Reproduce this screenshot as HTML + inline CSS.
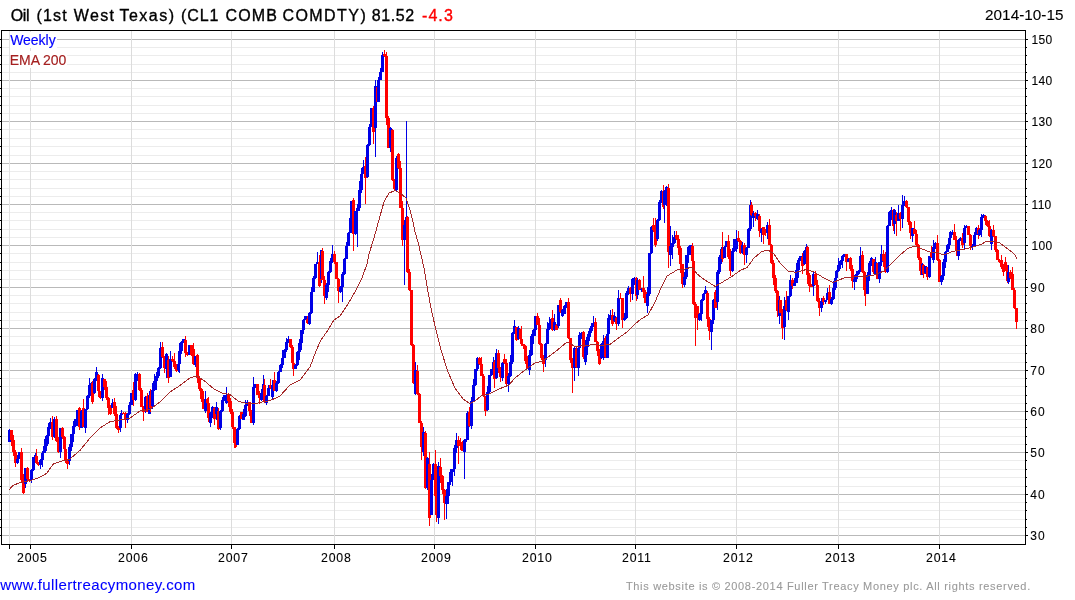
<!DOCTYPE html>
<html><head><meta charset="utf-8"><title>Oil (1st West Texas)</title>
<style>html,body{margin:0;padding:0;background:#fff;}body{width:1075px;height:600px;overflow:hidden}</style>
</head><body>
<svg width="1075" height="600" viewBox="0 0 1075 600" style="display:block;font-family:'Liberation Sans',Arial,sans-serif">
<rect x="0" y="0" width="1075" height="600" fill="#fff"/>
<g shape-rendering="crispEdges">
<rect x="2" y="535" width="1023" height="1" fill="#b9b9b9"/>
<rect x="2" y="527" width="1023" height="1" fill="#ececec"/>
<rect x="2" y="519" width="1023" height="1" fill="#ececec"/>
<rect x="2" y="510" width="1023" height="1" fill="#ececec"/>
<rect x="2" y="502" width="1023" height="1" fill="#ececec"/>
<rect x="2" y="494" width="1023" height="1" fill="#b9b9b9"/>
<rect x="2" y="486" width="1023" height="1" fill="#ececec"/>
<rect x="2" y="477" width="1023" height="1" fill="#ececec"/>
<rect x="2" y="469" width="1023" height="1" fill="#ececec"/>
<rect x="2" y="460" width="1023" height="1" fill="#ececec"/>
<rect x="2" y="452" width="1023" height="1" fill="#b9b9b9"/>
<rect x="2" y="444" width="1023" height="1" fill="#ececec"/>
<rect x="2" y="436" width="1023" height="1" fill="#ececec"/>
<rect x="2" y="427" width="1023" height="1" fill="#ececec"/>
<rect x="2" y="419" width="1023" height="1" fill="#ececec"/>
<rect x="2" y="411" width="1023" height="1" fill="#b9b9b9"/>
<rect x="2" y="403" width="1023" height="1" fill="#ececec"/>
<rect x="2" y="395" width="1023" height="1" fill="#ececec"/>
<rect x="2" y="386" width="1023" height="1" fill="#ececec"/>
<rect x="2" y="378" width="1023" height="1" fill="#ececec"/>
<rect x="2" y="370" width="1023" height="1" fill="#b9b9b9"/>
<rect x="2" y="362" width="1023" height="1" fill="#ececec"/>
<rect x="2" y="353" width="1023" height="1" fill="#ececec"/>
<rect x="2" y="345" width="1023" height="1" fill="#ececec"/>
<rect x="2" y="336" width="1023" height="1" fill="#ececec"/>
<rect x="2" y="328" width="1023" height="1" fill="#b9b9b9"/>
<rect x="2" y="320" width="1023" height="1" fill="#ececec"/>
<rect x="2" y="312" width="1023" height="1" fill="#ececec"/>
<rect x="2" y="303" width="1023" height="1" fill="#ececec"/>
<rect x="2" y="295" width="1023" height="1" fill="#ececec"/>
<rect x="2" y="287" width="1023" height="1" fill="#b9b9b9"/>
<rect x="2" y="279" width="1023" height="1" fill="#ececec"/>
<rect x="2" y="270" width="1023" height="1" fill="#ececec"/>
<rect x="2" y="262" width="1023" height="1" fill="#ececec"/>
<rect x="2" y="253" width="1023" height="1" fill="#ececec"/>
<rect x="2" y="245" width="1023" height="1" fill="#b9b9b9"/>
<rect x="2" y="237" width="1023" height="1" fill="#ececec"/>
<rect x="2" y="229" width="1023" height="1" fill="#ececec"/>
<rect x="2" y="220" width="1023" height="1" fill="#ececec"/>
<rect x="2" y="212" width="1023" height="1" fill="#ececec"/>
<rect x="2" y="204" width="1023" height="1" fill="#b9b9b9"/>
<rect x="2" y="196" width="1023" height="1" fill="#ececec"/>
<rect x="2" y="188" width="1023" height="1" fill="#ececec"/>
<rect x="2" y="179" width="1023" height="1" fill="#ececec"/>
<rect x="2" y="171" width="1023" height="1" fill="#ececec"/>
<rect x="2" y="163" width="1023" height="1" fill="#b9b9b9"/>
<rect x="2" y="155" width="1023" height="1" fill="#ececec"/>
<rect x="2" y="146" width="1023" height="1" fill="#ececec"/>
<rect x="2" y="138" width="1023" height="1" fill="#ececec"/>
<rect x="2" y="129" width="1023" height="1" fill="#ececec"/>
<rect x="2" y="121" width="1023" height="1" fill="#b9b9b9"/>
<rect x="2" y="113" width="1023" height="1" fill="#ececec"/>
<rect x="2" y="105" width="1023" height="1" fill="#ececec"/>
<rect x="2" y="96" width="1023" height="1" fill="#ececec"/>
<rect x="2" y="88" width="1023" height="1" fill="#ececec"/>
<rect x="2" y="80" width="1023" height="1" fill="#b9b9b9"/>
<rect x="2" y="72" width="1023" height="1" fill="#ececec"/>
<rect x="2" y="64" width="1023" height="1" fill="#ececec"/>
<rect x="2" y="55" width="1023" height="1" fill="#ececec"/>
<rect x="2" y="47" width="1023" height="1" fill="#ececec"/>
<rect x="2" y="39" width="1023" height="1" fill="#b9b9b9"/>
<rect x="9" y="31" width="1" height="513" fill="#e2e2e2"/>
<rect x="30" y="31" width="1" height="513" fill="#dcdcdc"/>
<rect x="131" y="31" width="1" height="513" fill="#dcdcdc"/>
<rect x="231" y="31" width="1" height="513" fill="#dcdcdc"/>
<rect x="334" y="31" width="1" height="513" fill="#dcdcdc"/>
<rect x="434" y="31" width="1" height="513" fill="#dcdcdc"/>
<rect x="535" y="31" width="1" height="513" fill="#dcdcdc"/>
<rect x="635" y="31" width="1" height="513" fill="#dcdcdc"/>
<rect x="736" y="31" width="1" height="513" fill="#dcdcdc"/>
<rect x="838" y="31" width="1" height="513" fill="#dcdcdc"/>
<rect x="939" y="31" width="1" height="513" fill="#dcdcdc"/>
</g>
<rect x="10" y="32" width="47" height="16" fill="#fff"/>
<rect x="10" y="51" width="57" height="17" fill="#fff"/>
<g shape-rendering="crispEdges">
<rect x="9" y="429" width="1" height="13" fill="#0000e6"/>
<rect x="8" y="430" width="3" height="12" fill="#0000e6"/>
<rect x="11" y="430" width="1" height="16" fill="#ff0000"/>
<rect x="10" y="430" width="3" height="10" fill="#ff0000"/>
<rect x="13" y="435" width="1" height="21" fill="#ff0000"/>
<rect x="12" y="440" width="3" height="12" fill="#ff0000"/>
<rect x="15" y="450" width="1" height="17" fill="#ff0000"/>
<rect x="14" y="452" width="3" height="11" fill="#ff0000"/>
<rect x="17" y="455" width="1" height="9" fill="#0000e6"/>
<rect x="16" y="459" width="3" height="4" fill="#0000e6"/>
<rect x="19" y="452" width="1" height="7" fill="#0000e6"/>
<rect x="18" y="452" width="3" height="7" fill="#0000e6"/>
<rect x="21" y="448" width="1" height="34" fill="#ff0000"/>
<rect x="20" y="452" width="3" height="28" fill="#ff0000"/>
<rect x="23" y="474" width="1" height="20" fill="#ff0000"/>
<rect x="22" y="480" width="3" height="13" fill="#ff0000"/>
<rect x="25" y="468" width="1" height="20" fill="#0000e6"/>
<rect x="24" y="468" width="3" height="16" fill="#0000e6"/>
<rect x="27" y="467" width="1" height="14" fill="#ff0000"/>
<rect x="26" y="468" width="3" height="11" fill="#ff0000"/>
<rect x="29" y="479" width="1" height="3" fill="#ff0000"/>
<rect x="28" y="479" width="3" height="1" fill="#ff0000"/>
<rect x="31" y="469" width="1" height="14" fill="#0000e6"/>
<rect x="30" y="470" width="3" height="10" fill="#0000e6"/>
<rect x="33" y="457" width="1" height="14" fill="#0000e6"/>
<rect x="32" y="457" width="3" height="13" fill="#0000e6"/>
<rect x="35" y="453" width="1" height="10" fill="#0000e6"/>
<rect x="34" y="455" width="3" height="2" fill="#0000e6"/>
<rect x="36" y="449" width="1" height="15" fill="#ff0000"/>
<rect x="35" y="456" width="3" height="7" fill="#ff0000"/>
<rect x="38" y="462" width="1" height="4" fill="#ff0000"/>
<rect x="37" y="463" width="3" height="2" fill="#ff0000"/>
<rect x="40" y="459" width="1" height="10" fill="#0000e6"/>
<rect x="39" y="460" width="3" height="5" fill="#0000e6"/>
<rect x="42" y="451" width="1" height="16" fill="#0000e6"/>
<rect x="41" y="453" width="3" height="7" fill="#0000e6"/>
<rect x="44" y="439" width="1" height="14" fill="#0000e6"/>
<rect x="43" y="446" width="3" height="7" fill="#0000e6"/>
<rect x="46" y="435" width="1" height="16" fill="#0000e6"/>
<rect x="45" y="436" width="3" height="10" fill="#0000e6"/>
<rect x="48" y="423" width="1" height="21" fill="#0000e6"/>
<rect x="47" y="427" width="3" height="9" fill="#0000e6"/>
<rect x="50" y="418" width="1" height="11" fill="#0000e6"/>
<rect x="49" y="422" width="3" height="5" fill="#0000e6"/>
<rect x="52" y="416" width="1" height="24" fill="#ff0000"/>
<rect x="51" y="422" width="3" height="15" fill="#ff0000"/>
<rect x="54" y="417" width="1" height="21" fill="#0000e6"/>
<rect x="53" y="419" width="3" height="18" fill="#0000e6"/>
<rect x="56" y="416" width="1" height="26" fill="#ff0000"/>
<rect x="55" y="419" width="3" height="22" fill="#ff0000"/>
<rect x="58" y="437" width="1" height="16" fill="#ff0000"/>
<rect x="57" y="441" width="3" height="11" fill="#ff0000"/>
<rect x="60" y="428" width="1" height="30" fill="#0000e6"/>
<rect x="59" y="428" width="3" height="24" fill="#0000e6"/>
<rect x="62" y="427" width="1" height="12" fill="#ff0000"/>
<rect x="61" y="428" width="3" height="9" fill="#ff0000"/>
<rect x="64" y="436" width="1" height="13" fill="#ff0000"/>
<rect x="63" y="437" width="3" height="12" fill="#ff0000"/>
<rect x="65" y="447" width="1" height="16" fill="#ff0000"/>
<rect x="64" y="449" width="3" height="11" fill="#ff0000"/>
<rect x="67" y="460" width="1" height="9" fill="#ff0000"/>
<rect x="66" y="460" width="3" height="4" fill="#ff0000"/>
<rect x="69" y="444" width="1" height="21" fill="#0000e6"/>
<rect x="68" y="447" width="3" height="14" fill="#0000e6"/>
<rect x="71" y="434" width="1" height="17" fill="#0000e6"/>
<rect x="70" y="434" width="3" height="13" fill="#0000e6"/>
<rect x="73" y="421" width="1" height="21" fill="#0000e6"/>
<rect x="72" y="426" width="3" height="8" fill="#0000e6"/>
<rect x="75" y="419" width="1" height="8" fill="#0000e6"/>
<rect x="74" y="419" width="3" height="7" fill="#0000e6"/>
<rect x="77" y="410" width="1" height="16" fill="#0000e6"/>
<rect x="76" y="410" width="3" height="9" fill="#0000e6"/>
<rect x="79" y="407" width="1" height="23" fill="#ff0000"/>
<rect x="78" y="408" width="3" height="19" fill="#ff0000"/>
<rect x="81" y="410" width="1" height="18" fill="#0000e6"/>
<rect x="80" y="411" width="3" height="17" fill="#0000e6"/>
<rect x="83" y="399" width="1" height="28" fill="#ff0000"/>
<rect x="82" y="408" width="3" height="19" fill="#ff0000"/>
<rect x="85" y="409" width="1" height="24" fill="#0000e6"/>
<rect x="84" y="409" width="3" height="19" fill="#0000e6"/>
<rect x="87" y="395" width="1" height="15" fill="#0000e6"/>
<rect x="86" y="396" width="3" height="13" fill="#0000e6"/>
<rect x="89" y="378" width="1" height="20" fill="#0000e6"/>
<rect x="88" y="385" width="3" height="11" fill="#0000e6"/>
<rect x="91" y="382" width="1" height="9" fill="#0000e6"/>
<rect x="90" y="383" width="3" height="2" fill="#0000e6"/>
<rect x="92" y="381" width="1" height="23" fill="#ff0000"/>
<rect x="91" y="383" width="3" height="19" fill="#ff0000"/>
<rect x="94" y="378" width="1" height="16" fill="#0000e6"/>
<rect x="93" y="379" width="3" height="14" fill="#0000e6"/>
<rect x="96" y="367" width="1" height="14" fill="#0000e6"/>
<rect x="95" y="372" width="3" height="7" fill="#0000e6"/>
<rect x="98" y="374" width="1" height="23" fill="#ff0000"/>
<rect x="97" y="375" width="3" height="16" fill="#ff0000"/>
<rect x="100" y="391" width="1" height="8" fill="#ff0000"/>
<rect x="99" y="391" width="3" height="7" fill="#ff0000"/>
<rect x="102" y="374" width="1" height="27" fill="#0000e6"/>
<rect x="101" y="378" width="3" height="20" fill="#0000e6"/>
<rect x="104" y="379" width="1" height="11" fill="#ff0000"/>
<rect x="103" y="379" width="3" height="8" fill="#ff0000"/>
<rect x="106" y="381" width="1" height="19" fill="#ff0000"/>
<rect x="105" y="387" width="3" height="11" fill="#ff0000"/>
<rect x="108" y="397" width="1" height="18" fill="#ff0000"/>
<rect x="107" y="398" width="3" height="10" fill="#ff0000"/>
<rect x="110" y="405" width="1" height="10" fill="#ff0000"/>
<rect x="109" y="408" width="3" height="6" fill="#ff0000"/>
<rect x="112" y="399" width="1" height="9" fill="#0000e6"/>
<rect x="111" y="403" width="3" height="5" fill="#0000e6"/>
<rect x="114" y="398" width="1" height="18" fill="#ff0000"/>
<rect x="113" y="402" width="3" height="12" fill="#ff0000"/>
<rect x="116" y="406" width="1" height="23" fill="#ff0000"/>
<rect x="115" y="414" width="3" height="14" fill="#ff0000"/>
<rect x="118" y="426" width="1" height="7" fill="#ff0000"/>
<rect x="117" y="428" width="3" height="2" fill="#ff0000"/>
<rect x="120" y="413" width="1" height="19" fill="#0000e6"/>
<rect x="119" y="415" width="3" height="13" fill="#0000e6"/>
<rect x="121" y="410" width="1" height="5" fill="#0000e6"/>
<rect x="120" y="413" width="3" height="2" fill="#0000e6"/>
<rect x="123" y="412" width="1" height="2" fill="#ff0000"/>
<rect x="122" y="413" width="3" height="1" fill="#ff0000"/>
<rect x="125" y="412" width="1" height="16" fill="#ff0000"/>
<rect x="124" y="413" width="3" height="7" fill="#ff0000"/>
<rect x="127" y="413" width="1" height="10" fill="#0000e6"/>
<rect x="126" y="414" width="3" height="6" fill="#0000e6"/>
<rect x="129" y="402" width="1" height="13" fill="#0000e6"/>
<rect x="128" y="405" width="3" height="9" fill="#0000e6"/>
<rect x="131" y="393" width="1" height="12" fill="#0000e6"/>
<rect x="130" y="393" width="3" height="12" fill="#0000e6"/>
<rect x="133" y="382" width="1" height="24" fill="#ff0000"/>
<rect x="132" y="390" width="3" height="10" fill="#ff0000"/>
<rect x="135" y="373" width="1" height="28" fill="#0000e6"/>
<rect x="134" y="374" width="3" height="26" fill="#0000e6"/>
<rect x="137" y="372" width="1" height="9" fill="#0000e6"/>
<rect x="136" y="374" width="3" height="1" fill="#0000e6"/>
<rect x="139" y="373" width="1" height="18" fill="#ff0000"/>
<rect x="138" y="374" width="3" height="16" fill="#ff0000"/>
<rect x="141" y="388" width="1" height="19" fill="#ff0000"/>
<rect x="140" y="390" width="3" height="17" fill="#ff0000"/>
<rect x="143" y="406" width="1" height="15" fill="#ff0000"/>
<rect x="142" y="407" width="3" height="5" fill="#ff0000"/>
<rect x="145" y="396" width="1" height="17" fill="#0000e6"/>
<rect x="144" y="397" width="3" height="12" fill="#0000e6"/>
<rect x="147" y="393" width="1" height="19" fill="#ff0000"/>
<rect x="146" y="396" width="3" height="16" fill="#ff0000"/>
<rect x="149" y="391" width="1" height="23" fill="#0000e6"/>
<rect x="148" y="395" width="3" height="19" fill="#0000e6"/>
<rect x="150" y="389" width="1" height="23" fill="#ff0000"/>
<rect x="149" y="395" width="3" height="13" fill="#ff0000"/>
<rect x="152" y="383" width="1" height="26" fill="#0000e6"/>
<rect x="151" y="390" width="3" height="16" fill="#0000e6"/>
<rect x="154" y="374" width="1" height="17" fill="#0000e6"/>
<rect x="153" y="381" width="3" height="9" fill="#0000e6"/>
<rect x="156" y="372" width="1" height="18" fill="#0000e6"/>
<rect x="155" y="376" width="3" height="5" fill="#0000e6"/>
<rect x="158" y="367" width="1" height="11" fill="#0000e6"/>
<rect x="157" y="368" width="3" height="8" fill="#0000e6"/>
<rect x="160" y="342" width="1" height="27" fill="#0000e6"/>
<rect x="159" y="348" width="3" height="20" fill="#0000e6"/>
<rect x="162" y="342" width="1" height="16" fill="#ff0000"/>
<rect x="161" y="347" width="3" height="10" fill="#ff0000"/>
<rect x="164" y="356" width="1" height="17" fill="#ff0000"/>
<rect x="163" y="357" width="3" height="11" fill="#ff0000"/>
<rect x="166" y="353" width="1" height="25" fill="#0000e6"/>
<rect x="165" y="354" width="3" height="15" fill="#0000e6"/>
<rect x="168" y="356" width="1" height="27" fill="#ff0000"/>
<rect x="167" y="360" width="3" height="18" fill="#ff0000"/>
<rect x="170" y="351" width="1" height="26" fill="#0000e6"/>
<rect x="169" y="359" width="3" height="18" fill="#0000e6"/>
<rect x="172" y="356" width="1" height="6" fill="#ff0000"/>
<rect x="171" y="359" width="3" height="2" fill="#ff0000"/>
<rect x="174" y="353" width="1" height="16" fill="#ff0000"/>
<rect x="173" y="361" width="3" height="6" fill="#ff0000"/>
<rect x="176" y="364" width="1" height="8" fill="#ff0000"/>
<rect x="175" y="367" width="3" height="4" fill="#ff0000"/>
<rect x="178" y="356" width="1" height="16" fill="#0000e6"/>
<rect x="177" y="364" width="3" height="6" fill="#0000e6"/>
<rect x="179" y="343" width="1" height="30" fill="#0000e6"/>
<rect x="178" y="351" width="3" height="13" fill="#0000e6"/>
<rect x="181" y="341" width="1" height="13" fill="#0000e6"/>
<rect x="180" y="342" width="3" height="9" fill="#0000e6"/>
<rect x="183" y="339" width="1" height="4" fill="#0000e6"/>
<rect x="182" y="339" width="3" height="3" fill="#0000e6"/>
<rect x="185" y="336" width="1" height="21" fill="#ff0000"/>
<rect x="184" y="340" width="3" height="13" fill="#ff0000"/>
<rect x="187" y="352" width="1" height="4" fill="#ff0000"/>
<rect x="186" y="353" width="3" height="2" fill="#ff0000"/>
<rect x="189" y="345" width="1" height="10" fill="#0000e6"/>
<rect x="188" y="345" width="3" height="10" fill="#0000e6"/>
<rect x="191" y="345" width="1" height="11" fill="#ff0000"/>
<rect x="190" y="345" width="3" height="10" fill="#ff0000"/>
<rect x="193" y="343" width="1" height="22" fill="#ff0000"/>
<rect x="192" y="349" width="3" height="15" fill="#ff0000"/>
<rect x="195" y="356" width="1" height="11" fill="#0000e6"/>
<rect x="194" y="356" width="3" height="9" fill="#0000e6"/>
<rect x="197" y="354" width="1" height="29" fill="#ff0000"/>
<rect x="196" y="355" width="3" height="23" fill="#ff0000"/>
<rect x="199" y="376" width="1" height="15" fill="#ff0000"/>
<rect x="198" y="378" width="3" height="11" fill="#ff0000"/>
<rect x="201" y="388" width="1" height="14" fill="#ff0000"/>
<rect x="200" y="389" width="3" height="10" fill="#ff0000"/>
<rect x="203" y="391" width="1" height="18" fill="#ff0000"/>
<rect x="202" y="399" width="3" height="10" fill="#ff0000"/>
<rect x="205" y="391" width="1" height="22" fill="#0000e6"/>
<rect x="204" y="399" width="3" height="12" fill="#0000e6"/>
<rect x="207" y="398" width="1" height="6" fill="#ff0000"/>
<rect x="206" y="399" width="3" height="4" fill="#ff0000"/>
<rect x="208" y="397" width="1" height="25" fill="#ff0000"/>
<rect x="207" y="403" width="3" height="15" fill="#ff0000"/>
<rect x="210" y="412" width="1" height="15" fill="#0000e6"/>
<rect x="209" y="413" width="3" height="10" fill="#0000e6"/>
<rect x="212" y="406" width="1" height="12" fill="#0000e6"/>
<rect x="211" y="407" width="3" height="6" fill="#0000e6"/>
<rect x="214" y="407" width="1" height="18" fill="#ff0000"/>
<rect x="213" y="408" width="3" height="11" fill="#ff0000"/>
<rect x="216" y="402" width="1" height="18" fill="#0000e6"/>
<rect x="215" y="407" width="3" height="7" fill="#0000e6"/>
<rect x="218" y="408" width="1" height="22" fill="#ff0000"/>
<rect x="217" y="411" width="3" height="18" fill="#ff0000"/>
<rect x="220" y="410" width="1" height="20" fill="#0000e6"/>
<rect x="219" y="411" width="3" height="17" fill="#0000e6"/>
<rect x="222" y="397" width="1" height="15" fill="#0000e6"/>
<rect x="221" y="400" width="3" height="11" fill="#0000e6"/>
<rect x="224" y="395" width="1" height="6" fill="#0000e6"/>
<rect x="223" y="395" width="3" height="5" fill="#0000e6"/>
<rect x="226" y="387" width="1" height="17" fill="#0000e6"/>
<rect x="225" y="395" width="3" height="8" fill="#0000e6"/>
<rect x="228" y="393" width="1" height="14" fill="#ff0000"/>
<rect x="227" y="395" width="3" height="6" fill="#ff0000"/>
<rect x="230" y="398" width="1" height="16" fill="#ff0000"/>
<rect x="229" y="401" width="3" height="11" fill="#ff0000"/>
<rect x="232" y="409" width="1" height="20" fill="#ff0000"/>
<rect x="231" y="412" width="3" height="15" fill="#ff0000"/>
<rect x="234" y="427" width="1" height="21" fill="#ff0000"/>
<rect x="233" y="427" width="3" height="16" fill="#ff0000"/>
<rect x="235" y="435" width="1" height="13" fill="#ff0000"/>
<rect x="234" y="443" width="3" height="4" fill="#ff0000"/>
<rect x="237" y="428" width="1" height="17" fill="#0000e6"/>
<rect x="236" y="429" width="3" height="16" fill="#0000e6"/>
<rect x="239" y="415" width="1" height="15" fill="#0000e6"/>
<rect x="238" y="416" width="3" height="13" fill="#0000e6"/>
<rect x="241" y="412" width="1" height="7" fill="#ff0000"/>
<rect x="240" y="412" width="3" height="7" fill="#ff0000"/>
<rect x="243" y="409" width="1" height="11" fill="#0000e6"/>
<rect x="242" y="414" width="3" height="6" fill="#0000e6"/>
<rect x="245" y="400" width="1" height="17" fill="#0000e6"/>
<rect x="244" y="405" width="3" height="11" fill="#0000e6"/>
<rect x="247" y="400" width="1" height="6" fill="#0000e6"/>
<rect x="246" y="402" width="3" height="3" fill="#0000e6"/>
<rect x="249" y="402" width="1" height="14" fill="#ff0000"/>
<rect x="248" y="402" width="3" height="9" fill="#ff0000"/>
<rect x="251" y="410" width="1" height="13" fill="#ff0000"/>
<rect x="250" y="411" width="3" height="12" fill="#ff0000"/>
<rect x="253" y="377" width="1" height="48" fill="#0000e6"/>
<rect x="252" y="387" width="3" height="36" fill="#0000e6"/>
<rect x="255" y="384" width="1" height="4" fill="#0000e6"/>
<rect x="254" y="384" width="3" height="3" fill="#0000e6"/>
<rect x="257" y="384" width="1" height="11" fill="#ff0000"/>
<rect x="256" y="384" width="3" height="11" fill="#ff0000"/>
<rect x="259" y="391" width="1" height="13" fill="#ff0000"/>
<rect x="258" y="395" width="3" height="3" fill="#ff0000"/>
<rect x="261" y="389" width="1" height="12" fill="#0000e6"/>
<rect x="260" y="393" width="3" height="7" fill="#0000e6"/>
<rect x="263" y="375" width="1" height="24" fill="#0000e6"/>
<rect x="262" y="384" width="3" height="9" fill="#0000e6"/>
<rect x="264" y="379" width="1" height="24" fill="#ff0000"/>
<rect x="263" y="385" width="3" height="17" fill="#ff0000"/>
<rect x="266" y="395" width="1" height="10" fill="#0000e6"/>
<rect x="265" y="396" width="3" height="7" fill="#0000e6"/>
<rect x="268" y="385" width="1" height="11" fill="#0000e6"/>
<rect x="267" y="388" width="3" height="8" fill="#0000e6"/>
<rect x="270" y="379" width="1" height="10" fill="#ff0000"/>
<rect x="269" y="385" width="3" height="3" fill="#ff0000"/>
<rect x="272" y="380" width="1" height="19" fill="#0000e6"/>
<rect x="271" y="385" width="3" height="12" fill="#0000e6"/>
<rect x="274" y="372" width="1" height="19" fill="#ff0000"/>
<rect x="273" y="380" width="3" height="11" fill="#ff0000"/>
<rect x="276" y="381" width="1" height="11" fill="#0000e6"/>
<rect x="275" y="383" width="3" height="8" fill="#0000e6"/>
<rect x="278" y="371" width="1" height="13" fill="#0000e6"/>
<rect x="277" y="372" width="3" height="11" fill="#0000e6"/>
<rect x="280" y="364" width="1" height="8" fill="#0000e6"/>
<rect x="279" y="365" width="3" height="7" fill="#0000e6"/>
<rect x="282" y="350" width="1" height="18" fill="#0000e6"/>
<rect x="281" y="358" width="3" height="7" fill="#0000e6"/>
<rect x="284" y="349" width="1" height="9" fill="#0000e6"/>
<rect x="283" y="350" width="3" height="8" fill="#0000e6"/>
<rect x="286" y="338" width="1" height="14" fill="#0000e6"/>
<rect x="285" y="342" width="3" height="8" fill="#0000e6"/>
<rect x="288" y="336" width="1" height="7" fill="#0000e6"/>
<rect x="287" y="339" width="3" height="3" fill="#0000e6"/>
<rect x="290" y="339" width="1" height="9" fill="#ff0000"/>
<rect x="289" y="339" width="3" height="8" fill="#ff0000"/>
<rect x="292" y="345" width="1" height="19" fill="#ff0000"/>
<rect x="291" y="347" width="3" height="16" fill="#ff0000"/>
<rect x="293" y="363" width="1" height="13" fill="#ff0000"/>
<rect x="292" y="363" width="3" height="6" fill="#ff0000"/>
<rect x="295" y="364" width="1" height="5" fill="#0000e6"/>
<rect x="294" y="365" width="3" height="4" fill="#0000e6"/>
<rect x="297" y="351" width="1" height="15" fill="#0000e6"/>
<rect x="296" y="352" width="3" height="13" fill="#0000e6"/>
<rect x="299" y="339" width="1" height="21" fill="#0000e6"/>
<rect x="298" y="343" width="3" height="9" fill="#0000e6"/>
<rect x="301" y="330" width="1" height="20" fill="#0000e6"/>
<rect x="300" y="330" width="3" height="13" fill="#0000e6"/>
<rect x="303" y="319" width="1" height="15" fill="#0000e6"/>
<rect x="302" y="320" width="3" height="10" fill="#0000e6"/>
<rect x="305" y="316" width="1" height="4" fill="#0000e6"/>
<rect x="304" y="316" width="3" height="4" fill="#0000e6"/>
<rect x="307" y="316" width="1" height="8" fill="#ff0000"/>
<rect x="306" y="319" width="3" height="4" fill="#ff0000"/>
<rect x="309" y="312" width="1" height="13" fill="#0000e6"/>
<rect x="308" y="313" width="3" height="11" fill="#0000e6"/>
<rect x="311" y="287" width="1" height="27" fill="#0000e6"/>
<rect x="310" y="292" width="3" height="21" fill="#0000e6"/>
<rect x="313" y="276" width="1" height="16" fill="#0000e6"/>
<rect x="312" y="278" width="3" height="14" fill="#0000e6"/>
<rect x="315" y="264" width="1" height="15" fill="#0000e6"/>
<rect x="314" y="264" width="3" height="14" fill="#0000e6"/>
<rect x="317" y="252" width="1" height="12" fill="#0000e6"/>
<rect x="316" y="262" width="3" height="2" fill="#0000e6"/>
<rect x="319" y="255" width="1" height="32" fill="#ff0000"/>
<rect x="318" y="262" width="3" height="24" fill="#ff0000"/>
<rect x="321" y="250" width="1" height="33" fill="#0000e6"/>
<rect x="320" y="250" width="3" height="29" fill="#0000e6"/>
<rect x="322" y="248" width="1" height="32" fill="#ff0000"/>
<rect x="321" y="251" width="3" height="29" fill="#ff0000"/>
<rect x="324" y="276" width="1" height="28" fill="#ff0000"/>
<rect x="323" y="280" width="3" height="16" fill="#ff0000"/>
<rect x="326" y="283" width="1" height="17" fill="#0000e6"/>
<rect x="325" y="285" width="3" height="13" fill="#0000e6"/>
<rect x="328" y="271" width="1" height="21" fill="#0000e6"/>
<rect x="327" y="272" width="3" height="13" fill="#0000e6"/>
<rect x="330" y="258" width="1" height="15" fill="#0000e6"/>
<rect x="329" y="261" width="3" height="11" fill="#0000e6"/>
<rect x="332" y="245" width="1" height="18" fill="#0000e6"/>
<rect x="331" y="254" width="3" height="7" fill="#0000e6"/>
<rect x="334" y="251" width="1" height="13" fill="#ff0000"/>
<rect x="333" y="254" width="3" height="8" fill="#ff0000"/>
<rect x="336" y="262" width="1" height="17" fill="#ff0000"/>
<rect x="335" y="262" width="3" height="17" fill="#ff0000"/>
<rect x="338" y="278" width="1" height="25" fill="#ff0000"/>
<rect x="337" y="279" width="3" height="12" fill="#ff0000"/>
<rect x="340" y="286" width="1" height="7" fill="#0000e6"/>
<rect x="339" y="287" width="3" height="5" fill="#0000e6"/>
<rect x="342" y="272" width="1" height="30" fill="#0000e6"/>
<rect x="341" y="274" width="3" height="13" fill="#0000e6"/>
<rect x="344" y="258" width="1" height="17" fill="#0000e6"/>
<rect x="343" y="259" width="3" height="15" fill="#0000e6"/>
<rect x="346" y="242" width="1" height="17" fill="#0000e6"/>
<rect x="345" y="246" width="3" height="13" fill="#0000e6"/>
<rect x="348" y="232" width="1" height="14" fill="#0000e6"/>
<rect x="347" y="233" width="3" height="13" fill="#0000e6"/>
<rect x="350" y="216" width="1" height="17" fill="#0000e6"/>
<rect x="349" y="218" width="3" height="15" fill="#0000e6"/>
<rect x="351" y="201" width="1" height="18" fill="#0000e6"/>
<rect x="350" y="201" width="3" height="17" fill="#0000e6"/>
<rect x="353" y="198" width="1" height="53" fill="#ff0000"/>
<rect x="352" y="200" width="3" height="34" fill="#ff0000"/>
<rect x="355" y="211" width="1" height="24" fill="#0000e6"/>
<rect x="354" y="211" width="3" height="23" fill="#0000e6"/>
<rect x="357" y="204" width="1" height="43" fill="#0000e6"/>
<rect x="356" y="208" width="3" height="3" fill="#0000e6"/>
<rect x="359" y="181" width="1" height="30" fill="#0000e6"/>
<rect x="358" y="190" width="3" height="18" fill="#0000e6"/>
<rect x="361" y="168" width="1" height="25" fill="#0000e6"/>
<rect x="360" y="174" width="3" height="16" fill="#0000e6"/>
<rect x="363" y="160" width="1" height="14" fill="#0000e6"/>
<rect x="362" y="167" width="3" height="7" fill="#0000e6"/>
<rect x="365" y="157" width="1" height="47" fill="#ff0000"/>
<rect x="364" y="166" width="3" height="12" fill="#ff0000"/>
<rect x="367" y="144" width="1" height="34" fill="#0000e6"/>
<rect x="366" y="145" width="3" height="32" fill="#0000e6"/>
<rect x="369" y="124" width="1" height="22" fill="#0000e6"/>
<rect x="368" y="127" width="3" height="18" fill="#0000e6"/>
<rect x="371" y="108" width="1" height="19" fill="#0000e6"/>
<rect x="370" y="108" width="3" height="19" fill="#0000e6"/>
<rect x="373" y="106" width="1" height="38" fill="#ff0000"/>
<rect x="372" y="108" width="3" height="24" fill="#ff0000"/>
<rect x="375" y="80" width="1" height="77" fill="#0000e6"/>
<rect x="374" y="86" width="3" height="42" fill="#0000e6"/>
<rect x="377" y="82" width="1" height="20" fill="#ff0000"/>
<rect x="376" y="87" width="3" height="15" fill="#ff0000"/>
<rect x="378" y="77" width="1" height="25" fill="#0000e6"/>
<rect x="377" y="80" width="3" height="22" fill="#0000e6"/>
<rect x="380" y="68" width="1" height="12" fill="#0000e6"/>
<rect x="379" y="72" width="3" height="8" fill="#0000e6"/>
<rect x="382" y="52" width="1" height="20" fill="#0000e6"/>
<rect x="381" y="55" width="3" height="17" fill="#0000e6"/>
<rect x="384" y="50" width="1" height="7" fill="#ff0000"/>
<rect x="383" y="54" width="3" height="2" fill="#ff0000"/>
<rect x="386" y="52" width="1" height="73" fill="#ff0000"/>
<rect x="385" y="56" width="3" height="62" fill="#ff0000"/>
<rect x="388" y="116" width="1" height="32" fill="#ff0000"/>
<rect x="387" y="118" width="3" height="30" fill="#ff0000"/>
<rect x="390" y="127" width="1" height="25" fill="#0000e6"/>
<rect x="389" y="128" width="3" height="20" fill="#0000e6"/>
<rect x="392" y="129" width="1" height="52" fill="#ff0000"/>
<rect x="391" y="130" width="3" height="50" fill="#ff0000"/>
<rect x="394" y="179" width="1" height="12" fill="#ff0000"/>
<rect x="393" y="180" width="3" height="9" fill="#ff0000"/>
<rect x="396" y="156" width="1" height="35" fill="#0000e6"/>
<rect x="395" y="158" width="3" height="32" fill="#0000e6"/>
<rect x="398" y="153" width="1" height="16" fill="#ff0000"/>
<rect x="397" y="154" width="3" height="14" fill="#ff0000"/>
<rect x="400" y="161" width="1" height="47" fill="#ff0000"/>
<rect x="399" y="168" width="3" height="40" fill="#ff0000"/>
<rect x="402" y="201" width="1" height="45" fill="#ff0000"/>
<rect x="401" y="208" width="3" height="32" fill="#ff0000"/>
<rect x="404" y="220" width="1" height="65" fill="#0000e6"/>
<rect x="403" y="225" width="3" height="15" fill="#0000e6"/>
<rect x="406" y="121" width="1" height="105" fill="#0000e6"/>
<rect x="405" y="217" width="3" height="8" fill="#0000e6"/>
<rect x="407" y="216" width="1" height="57" fill="#ff0000"/>
<rect x="406" y="217" width="3" height="55" fill="#ff0000"/>
<rect x="409" y="269" width="1" height="22" fill="#ff0000"/>
<rect x="408" y="272" width="3" height="18" fill="#ff0000"/>
<rect x="411" y="290" width="1" height="56" fill="#ff0000"/>
<rect x="410" y="290" width="3" height="55" fill="#ff0000"/>
<rect x="413" y="344" width="1" height="40" fill="#ff0000"/>
<rect x="412" y="345" width="3" height="38" fill="#ff0000"/>
<rect x="415" y="362" width="1" height="33" fill="#0000e6"/>
<rect x="414" y="370" width="3" height="24" fill="#0000e6"/>
<rect x="417" y="365" width="1" height="30" fill="#ff0000"/>
<rect x="416" y="371" width="3" height="23" fill="#ff0000"/>
<rect x="419" y="393" width="1" height="30" fill="#ff0000"/>
<rect x="418" y="394" width="3" height="29" fill="#ff0000"/>
<rect x="421" y="421" width="1" height="39" fill="#ff0000"/>
<rect x="420" y="423" width="3" height="24" fill="#ff0000"/>
<rect x="423" y="427" width="1" height="29" fill="#0000e6"/>
<rect x="422" y="432" width="3" height="20" fill="#0000e6"/>
<rect x="425" y="431" width="1" height="58" fill="#ff0000"/>
<rect x="424" y="433" width="3" height="55" fill="#ff0000"/>
<rect x="427" y="457" width="1" height="33" fill="#0000e6"/>
<rect x="426" y="458" width="3" height="30" fill="#0000e6"/>
<rect x="429" y="452" width="1" height="74" fill="#ff0000"/>
<rect x="428" y="464" width="3" height="54" fill="#ff0000"/>
<rect x="431" y="474" width="1" height="41" fill="#0000e6"/>
<rect x="430" y="480" width="3" height="35" fill="#0000e6"/>
<rect x="433" y="463" width="1" height="17" fill="#0000e6"/>
<rect x="432" y="464" width="3" height="16" fill="#0000e6"/>
<rect x="435" y="450" width="1" height="46" fill="#ff0000"/>
<rect x="434" y="464" width="3" height="32" fill="#ff0000"/>
<rect x="436" y="495" width="1" height="27" fill="#ff0000"/>
<rect x="435" y="496" width="3" height="19" fill="#ff0000"/>
<rect x="438" y="462" width="1" height="62" fill="#0000e6"/>
<rect x="437" y="466" width="3" height="52" fill="#0000e6"/>
<rect x="440" y="458" width="1" height="25" fill="#ff0000"/>
<rect x="439" y="467" width="3" height="9" fill="#ff0000"/>
<rect x="442" y="475" width="1" height="19" fill="#ff0000"/>
<rect x="441" y="476" width="3" height="14" fill="#ff0000"/>
<rect x="444" y="489" width="1" height="31" fill="#ff0000"/>
<rect x="443" y="490" width="3" height="13" fill="#ff0000"/>
<rect x="446" y="489" width="1" height="30" fill="#0000e6"/>
<rect x="445" y="496" width="3" height="8" fill="#0000e6"/>
<rect x="448" y="482" width="1" height="22" fill="#0000e6"/>
<rect x="447" y="482" width="3" height="14" fill="#0000e6"/>
<rect x="450" y="469" width="1" height="16" fill="#0000e6"/>
<rect x="449" y="472" width="3" height="10" fill="#0000e6"/>
<rect x="452" y="469" width="1" height="17" fill="#0000e6"/>
<rect x="451" y="469" width="3" height="3" fill="#0000e6"/>
<rect x="454" y="445" width="1" height="31" fill="#0000e6"/>
<rect x="453" y="448" width="3" height="21" fill="#0000e6"/>
<rect x="456" y="433" width="1" height="20" fill="#0000e6"/>
<rect x="455" y="440" width="3" height="8" fill="#0000e6"/>
<rect x="458" y="436" width="1" height="28" fill="#ff0000"/>
<rect x="457" y="440" width="3" height="6" fill="#ff0000"/>
<rect x="460" y="438" width="1" height="12" fill="#ff0000"/>
<rect x="459" y="442" width="3" height="4" fill="#ff0000"/>
<rect x="462" y="441" width="1" height="10" fill="#ff0000"/>
<rect x="461" y="446" width="3" height="5" fill="#ff0000"/>
<rect x="464" y="439" width="1" height="40" fill="#0000e6"/>
<rect x="463" y="440" width="3" height="12" fill="#0000e6"/>
<rect x="465" y="439" width="1" height="4" fill="#0000e6"/>
<rect x="464" y="440" width="3" height="2" fill="#0000e6"/>
<rect x="467" y="411" width="1" height="29" fill="#0000e6"/>
<rect x="466" y="413" width="3" height="27" fill="#0000e6"/>
<rect x="469" y="407" width="1" height="20" fill="#ff0000"/>
<rect x="468" y="412" width="3" height="14" fill="#ff0000"/>
<rect x="471" y="397" width="1" height="32" fill="#0000e6"/>
<rect x="470" y="401" width="3" height="25" fill="#0000e6"/>
<rect x="473" y="379" width="1" height="22" fill="#0000e6"/>
<rect x="472" y="385" width="3" height="16" fill="#0000e6"/>
<rect x="475" y="369" width="1" height="17" fill="#0000e6"/>
<rect x="474" y="369" width="3" height="16" fill="#0000e6"/>
<rect x="477" y="357" width="1" height="14" fill="#0000e6"/>
<rect x="476" y="358" width="3" height="11" fill="#0000e6"/>
<rect x="479" y="357" width="1" height="8" fill="#ff0000"/>
<rect x="478" y="358" width="3" height="6" fill="#ff0000"/>
<rect x="481" y="357" width="1" height="19" fill="#ff0000"/>
<rect x="480" y="364" width="3" height="12" fill="#ff0000"/>
<rect x="483" y="374" width="1" height="23" fill="#ff0000"/>
<rect x="482" y="376" width="3" height="20" fill="#ff0000"/>
<rect x="485" y="396" width="1" height="20" fill="#ff0000"/>
<rect x="484" y="396" width="3" height="15" fill="#ff0000"/>
<rect x="487" y="386" width="1" height="25" fill="#0000e6"/>
<rect x="486" y="392" width="3" height="18" fill="#0000e6"/>
<rect x="489" y="375" width="1" height="19" fill="#0000e6"/>
<rect x="488" y="375" width="3" height="17" fill="#0000e6"/>
<rect x="491" y="369" width="1" height="7" fill="#0000e6"/>
<rect x="490" y="369" width="3" height="6" fill="#0000e6"/>
<rect x="493" y="357" width="1" height="19" fill="#0000e6"/>
<rect x="492" y="362" width="3" height="7" fill="#0000e6"/>
<rect x="494" y="360" width="1" height="28" fill="#ff0000"/>
<rect x="493" y="362" width="3" height="17" fill="#ff0000"/>
<rect x="496" y="349" width="1" height="30" fill="#0000e6"/>
<rect x="495" y="353" width="3" height="25" fill="#0000e6"/>
<rect x="498" y="350" width="1" height="23" fill="#ff0000"/>
<rect x="497" y="353" width="3" height="15" fill="#ff0000"/>
<rect x="500" y="367" width="1" height="15" fill="#ff0000"/>
<rect x="499" y="368" width="3" height="9" fill="#ff0000"/>
<rect x="502" y="362" width="1" height="19" fill="#0000e6"/>
<rect x="501" y="363" width="3" height="15" fill="#0000e6"/>
<rect x="504" y="354" width="1" height="10" fill="#ff0000"/>
<rect x="503" y="359" width="3" height="4" fill="#ff0000"/>
<rect x="506" y="359" width="1" height="27" fill="#ff0000"/>
<rect x="505" y="363" width="3" height="21" fill="#ff0000"/>
<rect x="508" y="373" width="1" height="19" fill="#0000e6"/>
<rect x="507" y="376" width="3" height="8" fill="#0000e6"/>
<rect x="510" y="355" width="1" height="22" fill="#0000e6"/>
<rect x="509" y="362" width="3" height="14" fill="#0000e6"/>
<rect x="512" y="332" width="1" height="32" fill="#0000e6"/>
<rect x="511" y="333" width="3" height="29" fill="#0000e6"/>
<rect x="514" y="320" width="1" height="14" fill="#0000e6"/>
<rect x="513" y="326" width="3" height="7" fill="#0000e6"/>
<rect x="516" y="327" width="1" height="14" fill="#ff0000"/>
<rect x="515" y="327" width="3" height="13" fill="#ff0000"/>
<rect x="518" y="326" width="1" height="14" fill="#0000e6"/>
<rect x="517" y="328" width="3" height="11" fill="#0000e6"/>
<rect x="520" y="329" width="1" height="11" fill="#ff0000"/>
<rect x="519" y="329" width="3" height="10" fill="#ff0000"/>
<rect x="521" y="326" width="1" height="20" fill="#ff0000"/>
<rect x="520" y="339" width="3" height="5" fill="#ff0000"/>
<rect x="523" y="344" width="1" height="5" fill="#ff0000"/>
<rect x="522" y="344" width="3" height="2" fill="#ff0000"/>
<rect x="525" y="345" width="1" height="19" fill="#ff0000"/>
<rect x="524" y="346" width="3" height="15" fill="#ff0000"/>
<rect x="527" y="356" width="1" height="13" fill="#ff0000"/>
<rect x="526" y="361" width="3" height="8" fill="#ff0000"/>
<rect x="529" y="350" width="1" height="25" fill="#0000e6"/>
<rect x="528" y="355" width="3" height="15" fill="#0000e6"/>
<rect x="531" y="334" width="1" height="22" fill="#0000e6"/>
<rect x="530" y="336" width="3" height="19" fill="#0000e6"/>
<rect x="533" y="329" width="1" height="15" fill="#0000e6"/>
<rect x="532" y="330" width="3" height="6" fill="#0000e6"/>
<rect x="535" y="316" width="1" height="20" fill="#0000e6"/>
<rect x="534" y="316" width="3" height="14" fill="#0000e6"/>
<rect x="537" y="313" width="1" height="12" fill="#ff0000"/>
<rect x="536" y="316" width="3" height="9" fill="#ff0000"/>
<rect x="539" y="318" width="1" height="27" fill="#ff0000"/>
<rect x="538" y="325" width="3" height="19" fill="#ff0000"/>
<rect x="541" y="343" width="1" height="17" fill="#ff0000"/>
<rect x="540" y="344" width="3" height="14" fill="#ff0000"/>
<rect x="543" y="355" width="1" height="17" fill="#ff0000"/>
<rect x="542" y="358" width="3" height="6" fill="#ff0000"/>
<rect x="545" y="343" width="1" height="24" fill="#0000e6"/>
<rect x="544" y="344" width="3" height="16" fill="#0000e6"/>
<rect x="547" y="322" width="1" height="22" fill="#0000e6"/>
<rect x="546" y="329" width="3" height="15" fill="#0000e6"/>
<rect x="549" y="317" width="1" height="13" fill="#0000e6"/>
<rect x="548" y="323" width="3" height="6" fill="#0000e6"/>
<rect x="550" y="319" width="1" height="5" fill="#0000e6"/>
<rect x="549" y="319" width="3" height="4" fill="#0000e6"/>
<rect x="552" y="310" width="1" height="21" fill="#ff0000"/>
<rect x="551" y="318" width="3" height="12" fill="#ff0000"/>
<rect x="554" y="314" width="1" height="17" fill="#0000e6"/>
<rect x="553" y="322" width="3" height="8" fill="#0000e6"/>
<rect x="556" y="324" width="1" height="6" fill="#ff0000"/>
<rect x="555" y="325" width="3" height="5" fill="#ff0000"/>
<rect x="558" y="305" width="1" height="23" fill="#0000e6"/>
<rect x="557" y="305" width="3" height="21" fill="#0000e6"/>
<rect x="560" y="298" width="1" height="15" fill="#ff0000"/>
<rect x="559" y="300" width="3" height="12" fill="#ff0000"/>
<rect x="562" y="309" width="1" height="8" fill="#0000e6"/>
<rect x="561" y="310" width="3" height="6" fill="#0000e6"/>
<rect x="564" y="305" width="1" height="9" fill="#0000e6"/>
<rect x="563" y="306" width="3" height="8" fill="#0000e6"/>
<rect x="566" y="302" width="1" height="6" fill="#0000e6"/>
<rect x="565" y="302" width="3" height="5" fill="#0000e6"/>
<rect x="568" y="298" width="1" height="41" fill="#ff0000"/>
<rect x="567" y="302" width="3" height="36" fill="#ff0000"/>
<rect x="570" y="338" width="1" height="25" fill="#ff0000"/>
<rect x="569" y="338" width="3" height="22" fill="#ff0000"/>
<rect x="572" y="358" width="1" height="35" fill="#ff0000"/>
<rect x="571" y="360" width="3" height="8" fill="#ff0000"/>
<rect x="574" y="346" width="1" height="35" fill="#0000e6"/>
<rect x="573" y="348" width="3" height="20" fill="#0000e6"/>
<rect x="576" y="347" width="1" height="21" fill="#ff0000"/>
<rect x="575" y="349" width="3" height="18" fill="#ff0000"/>
<rect x="578" y="341" width="1" height="35" fill="#0000e6"/>
<rect x="577" y="348" width="3" height="20" fill="#0000e6"/>
<rect x="579" y="332" width="1" height="24" fill="#0000e6"/>
<rect x="578" y="335" width="3" height="13" fill="#0000e6"/>
<rect x="581" y="332" width="1" height="7" fill="#0000e6"/>
<rect x="580" y="333" width="3" height="2" fill="#0000e6"/>
<rect x="583" y="331" width="1" height="28" fill="#ff0000"/>
<rect x="582" y="332" width="3" height="25" fill="#ff0000"/>
<rect x="585" y="340" width="1" height="25" fill="#0000e6"/>
<rect x="584" y="347" width="3" height="15" fill="#0000e6"/>
<rect x="587" y="334" width="1" height="21" fill="#0000e6"/>
<rect x="586" y="337" width="3" height="10" fill="#0000e6"/>
<rect x="589" y="328" width="1" height="13" fill="#0000e6"/>
<rect x="588" y="331" width="3" height="6" fill="#0000e6"/>
<rect x="591" y="323" width="1" height="10" fill="#0000e6"/>
<rect x="590" y="326" width="3" height="5" fill="#0000e6"/>
<rect x="593" y="316" width="1" height="11" fill="#0000e6"/>
<rect x="592" y="323" width="3" height="3" fill="#0000e6"/>
<rect x="595" y="318" width="1" height="24" fill="#ff0000"/>
<rect x="594" y="322" width="3" height="20" fill="#ff0000"/>
<rect x="597" y="341" width="1" height="15" fill="#ff0000"/>
<rect x="596" y="342" width="3" height="9" fill="#ff0000"/>
<rect x="599" y="349" width="1" height="16" fill="#ff0000"/>
<rect x="598" y="351" width="3" height="13" fill="#ff0000"/>
<rect x="601" y="343" width="1" height="16" fill="#0000e6"/>
<rect x="600" y="344" width="3" height="14" fill="#0000e6"/>
<rect x="603" y="335" width="1" height="25" fill="#0000e6"/>
<rect x="602" y="341" width="3" height="17" fill="#0000e6"/>
<rect x="605" y="336" width="1" height="22" fill="#ff0000"/>
<rect x="604" y="338" width="3" height="19" fill="#ff0000"/>
<rect x="607" y="334" width="1" height="24" fill="#0000e6"/>
<rect x="606" y="334" width="3" height="24" fill="#0000e6"/>
<rect x="608" y="314" width="1" height="25" fill="#0000e6"/>
<rect x="607" y="318" width="3" height="16" fill="#0000e6"/>
<rect x="610" y="310" width="1" height="10" fill="#0000e6"/>
<rect x="609" y="315" width="3" height="3" fill="#0000e6"/>
<rect x="612" y="309" width="1" height="17" fill="#ff0000"/>
<rect x="611" y="315" width="3" height="9" fill="#ff0000"/>
<rect x="614" y="312" width="1" height="10" fill="#0000e6"/>
<rect x="613" y="316" width="3" height="5" fill="#0000e6"/>
<rect x="616" y="317" width="1" height="13" fill="#ff0000"/>
<rect x="615" y="318" width="3" height="6" fill="#ff0000"/>
<rect x="618" y="290" width="1" height="36" fill="#0000e6"/>
<rect x="617" y="298" width="3" height="26" fill="#0000e6"/>
<rect x="620" y="293" width="1" height="6" fill="#ff0000"/>
<rect x="619" y="298" width="3" height="1" fill="#ff0000"/>
<rect x="622" y="298" width="1" height="30" fill="#ff0000"/>
<rect x="621" y="298" width="3" height="22" fill="#ff0000"/>
<rect x="624" y="313" width="1" height="8" fill="#0000e6"/>
<rect x="623" y="318" width="3" height="2" fill="#0000e6"/>
<rect x="626" y="291" width="1" height="28" fill="#0000e6"/>
<rect x="625" y="293" width="3" height="25" fill="#0000e6"/>
<rect x="628" y="286" width="1" height="9" fill="#0000e6"/>
<rect x="627" y="288" width="3" height="5" fill="#0000e6"/>
<rect x="630" y="287" width="1" height="15" fill="#ff0000"/>
<rect x="629" y="288" width="3" height="6" fill="#ff0000"/>
<rect x="632" y="278" width="1" height="22" fill="#0000e6"/>
<rect x="631" y="279" width="3" height="15" fill="#0000e6"/>
<rect x="634" y="277" width="1" height="8" fill="#0000e6"/>
<rect x="633" y="278" width="3" height="1" fill="#0000e6"/>
<rect x="636" y="277" width="1" height="24" fill="#ff0000"/>
<rect x="635" y="278" width="3" height="18" fill="#ff0000"/>
<rect x="637" y="278" width="1" height="21" fill="#0000e6"/>
<rect x="636" y="280" width="3" height="15" fill="#0000e6"/>
<rect x="639" y="279" width="1" height="11" fill="#ff0000"/>
<rect x="638" y="280" width="3" height="10" fill="#ff0000"/>
<rect x="641" y="288" width="1" height="4" fill="#0000e6"/>
<rect x="640" y="289" width="3" height="1" fill="#0000e6"/>
<rect x="643" y="276" width="1" height="22" fill="#ff0000"/>
<rect x="642" y="288" width="3" height="4" fill="#ff0000"/>
<rect x="645" y="290" width="1" height="13" fill="#ff0000"/>
<rect x="644" y="292" width="3" height="11" fill="#ff0000"/>
<rect x="647" y="287" width="1" height="26" fill="#0000e6"/>
<rect x="646" y="294" width="3" height="12" fill="#0000e6"/>
<rect x="649" y="253" width="1" height="43" fill="#0000e6"/>
<rect x="648" y="253" width="3" height="41" fill="#0000e6"/>
<rect x="651" y="226" width="1" height="28" fill="#0000e6"/>
<rect x="650" y="227" width="3" height="26" fill="#0000e6"/>
<rect x="653" y="218" width="1" height="14" fill="#ff0000"/>
<rect x="652" y="225" width="3" height="5" fill="#ff0000"/>
<rect x="655" y="218" width="1" height="29" fill="#ff0000"/>
<rect x="654" y="230" width="3" height="15" fill="#ff0000"/>
<rect x="657" y="219" width="1" height="22" fill="#0000e6"/>
<rect x="656" y="220" width="3" height="19" fill="#0000e6"/>
<rect x="659" y="200" width="1" height="21" fill="#0000e6"/>
<rect x="658" y="202" width="3" height="18" fill="#0000e6"/>
<rect x="661" y="190" width="1" height="13" fill="#0000e6"/>
<rect x="660" y="191" width="3" height="11" fill="#0000e6"/>
<rect x="663" y="185" width="1" height="24" fill="#ff0000"/>
<rect x="662" y="191" width="3" height="16" fill="#ff0000"/>
<rect x="664" y="190" width="1" height="33" fill="#0000e6"/>
<rect x="663" y="191" width="3" height="14" fill="#0000e6"/>
<rect x="666" y="186" width="1" height="20" fill="#0000e6"/>
<rect x="665" y="187" width="3" height="16" fill="#0000e6"/>
<rect x="668" y="184" width="1" height="84" fill="#ff0000"/>
<rect x="667" y="188" width="3" height="64" fill="#ff0000"/>
<rect x="670" y="226" width="1" height="40" fill="#0000e6"/>
<rect x="669" y="246" width="3" height="9" fill="#0000e6"/>
<rect x="672" y="235" width="1" height="24" fill="#0000e6"/>
<rect x="671" y="243" width="3" height="4" fill="#0000e6"/>
<rect x="674" y="231" width="1" height="13" fill="#0000e6"/>
<rect x="673" y="237" width="3" height="6" fill="#0000e6"/>
<rect x="676" y="231" width="1" height="9" fill="#ff0000"/>
<rect x="675" y="235" width="3" height="4" fill="#ff0000"/>
<rect x="678" y="235" width="1" height="20" fill="#ff0000"/>
<rect x="677" y="239" width="3" height="9" fill="#ff0000"/>
<rect x="680" y="246" width="1" height="27" fill="#ff0000"/>
<rect x="679" y="248" width="3" height="16" fill="#ff0000"/>
<rect x="682" y="264" width="1" height="24" fill="#ff0000"/>
<rect x="681" y="264" width="3" height="20" fill="#ff0000"/>
<rect x="684" y="272" width="1" height="15" fill="#0000e6"/>
<rect x="683" y="277" width="3" height="8" fill="#0000e6"/>
<rect x="686" y="255" width="1" height="24" fill="#0000e6"/>
<rect x="685" y="255" width="3" height="22" fill="#0000e6"/>
<rect x="688" y="246" width="1" height="17" fill="#0000e6"/>
<rect x="687" y="247" width="3" height="8" fill="#0000e6"/>
<rect x="690" y="245" width="1" height="10" fill="#0000e6"/>
<rect x="689" y="245" width="3" height="2" fill="#0000e6"/>
<rect x="692" y="243" width="1" height="19" fill="#ff0000"/>
<rect x="691" y="246" width="3" height="15" fill="#ff0000"/>
<rect x="693" y="257" width="1" height="48" fill="#ff0000"/>
<rect x="692" y="261" width="3" height="43" fill="#ff0000"/>
<rect x="695" y="302" width="1" height="44" fill="#ff0000"/>
<rect x="694" y="304" width="3" height="14" fill="#ff0000"/>
<rect x="697" y="306" width="1" height="24" fill="#ff0000"/>
<rect x="696" y="306" width="3" height="10" fill="#ff0000"/>
<rect x="699" y="313" width="1" height="8" fill="#0000e6"/>
<rect x="698" y="314" width="3" height="6" fill="#0000e6"/>
<rect x="701" y="299" width="1" height="22" fill="#0000e6"/>
<rect x="700" y="300" width="3" height="14" fill="#0000e6"/>
<rect x="703" y="293" width="1" height="8" fill="#0000e6"/>
<rect x="702" y="294" width="3" height="6" fill="#0000e6"/>
<rect x="705" y="286" width="1" height="8" fill="#0000e6"/>
<rect x="704" y="290" width="3" height="4" fill="#0000e6"/>
<rect x="707" y="291" width="1" height="36" fill="#ff0000"/>
<rect x="706" y="293" width="3" height="26" fill="#ff0000"/>
<rect x="709" y="317" width="1" height="23" fill="#ff0000"/>
<rect x="708" y="319" width="3" height="12" fill="#ff0000"/>
<rect x="711" y="320" width="1" height="30" fill="#0000e6"/>
<rect x="710" y="320" width="3" height="12" fill="#0000e6"/>
<rect x="713" y="299" width="1" height="25" fill="#0000e6"/>
<rect x="712" y="300" width="3" height="20" fill="#0000e6"/>
<rect x="715" y="290" width="1" height="18" fill="#ff0000"/>
<rect x="714" y="292" width="3" height="16" fill="#ff0000"/>
<rect x="717" y="270" width="1" height="40" fill="#0000e6"/>
<rect x="716" y="272" width="3" height="30" fill="#0000e6"/>
<rect x="719" y="255" width="1" height="19" fill="#0000e6"/>
<rect x="718" y="257" width="3" height="15" fill="#0000e6"/>
<rect x="721" y="247" width="1" height="17" fill="#0000e6"/>
<rect x="720" y="249" width="3" height="8" fill="#0000e6"/>
<rect x="722" y="232" width="1" height="30" fill="#ff0000"/>
<rect x="721" y="249" width="3" height="10" fill="#ff0000"/>
<rect x="724" y="246" width="1" height="12" fill="#0000e6"/>
<rect x="723" y="247" width="3" height="11" fill="#0000e6"/>
<rect x="726" y="241" width="1" height="6" fill="#0000e6"/>
<rect x="725" y="241" width="3" height="6" fill="#0000e6"/>
<rect x="728" y="235" width="1" height="24" fill="#ff0000"/>
<rect x="727" y="241" width="3" height="16" fill="#ff0000"/>
<rect x="730" y="249" width="1" height="27" fill="#ff0000"/>
<rect x="729" y="257" width="3" height="14" fill="#ff0000"/>
<rect x="732" y="248" width="1" height="24" fill="#0000e6"/>
<rect x="731" y="251" width="3" height="20" fill="#0000e6"/>
<rect x="734" y="239" width="1" height="13" fill="#0000e6"/>
<rect x="733" y="239" width="3" height="12" fill="#0000e6"/>
<rect x="736" y="230" width="1" height="22" fill="#0000e6"/>
<rect x="735" y="239" width="3" height="10" fill="#0000e6"/>
<rect x="738" y="231" width="1" height="11" fill="#ff0000"/>
<rect x="737" y="238" width="3" height="3" fill="#ff0000"/>
<rect x="740" y="240" width="1" height="14" fill="#ff0000"/>
<rect x="739" y="241" width="3" height="12" fill="#ff0000"/>
<rect x="742" y="242" width="1" height="12" fill="#0000e6"/>
<rect x="741" y="245" width="3" height="8" fill="#0000e6"/>
<rect x="744" y="243" width="1" height="22" fill="#ff0000"/>
<rect x="743" y="245" width="3" height="10" fill="#ff0000"/>
<rect x="746" y="247" width="1" height="16" fill="#0000e6"/>
<rect x="745" y="248" width="3" height="7" fill="#0000e6"/>
<rect x="748" y="228" width="1" height="20" fill="#0000e6"/>
<rect x="747" y="229" width="3" height="19" fill="#0000e6"/>
<rect x="750" y="200" width="1" height="31" fill="#0000e6"/>
<rect x="749" y="205" width="3" height="24" fill="#0000e6"/>
<rect x="751" y="202" width="1" height="14" fill="#ff0000"/>
<rect x="750" y="205" width="3" height="10" fill="#ff0000"/>
<rect x="753" y="211" width="1" height="16" fill="#0000e6"/>
<rect x="752" y="213" width="3" height="5" fill="#0000e6"/>
<rect x="755" y="212" width="1" height="9" fill="#ff0000"/>
<rect x="754" y="213" width="3" height="3" fill="#ff0000"/>
<rect x="757" y="210" width="1" height="10" fill="#0000e6"/>
<rect x="756" y="214" width="3" height="5" fill="#0000e6"/>
<rect x="759" y="214" width="1" height="23" fill="#ff0000"/>
<rect x="758" y="216" width="3" height="15" fill="#ff0000"/>
<rect x="761" y="228" width="1" height="14" fill="#0000e6"/>
<rect x="760" y="229" width="3" height="4" fill="#0000e6"/>
<rect x="763" y="227" width="1" height="17" fill="#ff0000"/>
<rect x="762" y="227" width="3" height="8" fill="#ff0000"/>
<rect x="765" y="229" width="1" height="7" fill="#ff0000"/>
<rect x="764" y="229" width="3" height="4" fill="#ff0000"/>
<rect x="767" y="222" width="1" height="17" fill="#0000e6"/>
<rect x="766" y="225" width="3" height="8" fill="#0000e6"/>
<rect x="769" y="219" width="1" height="26" fill="#ff0000"/>
<rect x="768" y="225" width="3" height="20" fill="#ff0000"/>
<rect x="771" y="244" width="1" height="20" fill="#ff0000"/>
<rect x="770" y="245" width="3" height="18" fill="#ff0000"/>
<rect x="773" y="260" width="1" height="25" fill="#ff0000"/>
<rect x="772" y="263" width="3" height="15" fill="#ff0000"/>
<rect x="775" y="275" width="1" height="18" fill="#ff0000"/>
<rect x="774" y="278" width="3" height="13" fill="#ff0000"/>
<rect x="777" y="290" width="1" height="27" fill="#ff0000"/>
<rect x="776" y="291" width="3" height="20" fill="#ff0000"/>
<rect x="779" y="296" width="1" height="28" fill="#0000e6"/>
<rect x="778" y="300" width="3" height="16" fill="#0000e6"/>
<rect x="780" y="300" width="1" height="13" fill="#ff0000"/>
<rect x="779" y="300" width="3" height="13" fill="#ff0000"/>
<rect x="782" y="309" width="1" height="30" fill="#ff0000"/>
<rect x="781" y="313" width="3" height="15" fill="#ff0000"/>
<rect x="784" y="297" width="1" height="43" fill="#0000e6"/>
<rect x="783" y="306" width="3" height="21" fill="#0000e6"/>
<rect x="786" y="291" width="1" height="20" fill="#ff0000"/>
<rect x="785" y="300" width="3" height="10" fill="#ff0000"/>
<rect x="788" y="296" width="1" height="24" fill="#0000e6"/>
<rect x="787" y="296" width="3" height="16" fill="#0000e6"/>
<rect x="790" y="275" width="1" height="22" fill="#0000e6"/>
<rect x="789" y="280" width="3" height="16" fill="#0000e6"/>
<rect x="792" y="278" width="1" height="11" fill="#ff0000"/>
<rect x="791" y="280" width="3" height="6" fill="#ff0000"/>
<rect x="794" y="278" width="1" height="8" fill="#0000e6"/>
<rect x="793" y="283" width="3" height="3" fill="#0000e6"/>
<rect x="796" y="263" width="1" height="20" fill="#0000e6"/>
<rect x="795" y="270" width="3" height="13" fill="#0000e6"/>
<rect x="798" y="258" width="1" height="20" fill="#0000e6"/>
<rect x="797" y="260" width="3" height="10" fill="#0000e6"/>
<rect x="800" y="256" width="1" height="5" fill="#0000e6"/>
<rect x="799" y="256" width="3" height="4" fill="#0000e6"/>
<rect x="802" y="253" width="1" height="21" fill="#ff0000"/>
<rect x="801" y="257" width="3" height="9" fill="#ff0000"/>
<rect x="804" y="250" width="1" height="15" fill="#0000e6"/>
<rect x="803" y="251" width="3" height="13" fill="#0000e6"/>
<rect x="806" y="244" width="1" height="9" fill="#0000e6"/>
<rect x="805" y="247" width="3" height="4" fill="#0000e6"/>
<rect x="807" y="246" width="1" height="38" fill="#ff0000"/>
<rect x="806" y="247" width="3" height="28" fill="#ff0000"/>
<rect x="809" y="273" width="1" height="19" fill="#ff0000"/>
<rect x="808" y="275" width="3" height="11" fill="#ff0000"/>
<rect x="811" y="284" width="1" height="3" fill="#ff0000"/>
<rect x="810" y="286" width="3" height="1" fill="#ff0000"/>
<rect x="813" y="271" width="1" height="25" fill="#0000e6"/>
<rect x="812" y="274" width="3" height="12" fill="#0000e6"/>
<rect x="815" y="271" width="1" height="14" fill="#ff0000"/>
<rect x="814" y="274" width="3" height="11" fill="#ff0000"/>
<rect x="817" y="280" width="1" height="22" fill="#ff0000"/>
<rect x="816" y="285" width="3" height="16" fill="#ff0000"/>
<rect x="819" y="298" width="1" height="18" fill="#ff0000"/>
<rect x="818" y="301" width="3" height="7" fill="#ff0000"/>
<rect x="821" y="298" width="1" height="14" fill="#0000e6"/>
<rect x="820" y="301" width="3" height="7" fill="#0000e6"/>
<rect x="823" y="296" width="1" height="9" fill="#ff0000"/>
<rect x="822" y="298" width="3" height="4" fill="#ff0000"/>
<rect x="825" y="300" width="1" height="4" fill="#0000e6"/>
<rect x="824" y="300" width="3" height="2" fill="#0000e6"/>
<rect x="827" y="288" width="1" height="12" fill="#0000e6"/>
<rect x="826" y="293" width="3" height="7" fill="#0000e6"/>
<rect x="829" y="285" width="1" height="19" fill="#ff0000"/>
<rect x="828" y="292" width="3" height="12" fill="#ff0000"/>
<rect x="831" y="297" width="1" height="8" fill="#0000e6"/>
<rect x="830" y="299" width="3" height="5" fill="#0000e6"/>
<rect x="833" y="281" width="1" height="19" fill="#0000e6"/>
<rect x="832" y="288" width="3" height="11" fill="#0000e6"/>
<rect x="835" y="275" width="1" height="15" fill="#0000e6"/>
<rect x="834" y="278" width="3" height="10" fill="#0000e6"/>
<rect x="836" y="270" width="1" height="13" fill="#0000e6"/>
<rect x="835" y="271" width="3" height="7" fill="#0000e6"/>
<rect x="838" y="258" width="1" height="14" fill="#0000e6"/>
<rect x="837" y="265" width="3" height="6" fill="#0000e6"/>
<rect x="840" y="260" width="1" height="9" fill="#0000e6"/>
<rect x="839" y="261" width="3" height="4" fill="#0000e6"/>
<rect x="842" y="255" width="1" height="13" fill="#0000e6"/>
<rect x="841" y="256" width="3" height="5" fill="#0000e6"/>
<rect x="844" y="254" width="1" height="3" fill="#0000e6"/>
<rect x="843" y="254" width="3" height="2" fill="#0000e6"/>
<rect x="846" y="254" width="1" height="17" fill="#ff0000"/>
<rect x="845" y="254" width="3" height="8" fill="#ff0000"/>
<rect x="848" y="258" width="1" height="4" fill="#0000e6"/>
<rect x="847" y="259" width="3" height="3" fill="#0000e6"/>
<rect x="850" y="257" width="1" height="14" fill="#ff0000"/>
<rect x="849" y="258" width="3" height="11" fill="#ff0000"/>
<rect x="852" y="265" width="1" height="23" fill="#ff0000"/>
<rect x="851" y="269" width="3" height="12" fill="#ff0000"/>
<rect x="854" y="275" width="1" height="15" fill="#0000e6"/>
<rect x="853" y="279" width="3" height="3" fill="#0000e6"/>
<rect x="856" y="271" width="1" height="11" fill="#0000e6"/>
<rect x="855" y="274" width="3" height="5" fill="#0000e6"/>
<rect x="858" y="270" width="1" height="5" fill="#0000e6"/>
<rect x="857" y="271" width="3" height="3" fill="#0000e6"/>
<rect x="860" y="247" width="1" height="25" fill="#0000e6"/>
<rect x="859" y="256" width="3" height="15" fill="#0000e6"/>
<rect x="862" y="251" width="1" height="22" fill="#ff0000"/>
<rect x="861" y="255" width="3" height="17" fill="#ff0000"/>
<rect x="864" y="271" width="1" height="25" fill="#ff0000"/>
<rect x="863" y="272" width="3" height="18" fill="#ff0000"/>
<rect x="865" y="290" width="1" height="16" fill="#ff0000"/>
<rect x="864" y="290" width="3" height="4" fill="#ff0000"/>
<rect x="867" y="272" width="1" height="22" fill="#0000e6"/>
<rect x="866" y="275" width="3" height="19" fill="#0000e6"/>
<rect x="869" y="261" width="1" height="20" fill="#0000e6"/>
<rect x="868" y="263" width="3" height="12" fill="#0000e6"/>
<rect x="871" y="257" width="1" height="9" fill="#0000e6"/>
<rect x="870" y="258" width="3" height="5" fill="#0000e6"/>
<rect x="873" y="259" width="1" height="15" fill="#ff0000"/>
<rect x="872" y="259" width="3" height="13" fill="#ff0000"/>
<rect x="875" y="257" width="1" height="17" fill="#0000e6"/>
<rect x="874" y="262" width="3" height="12" fill="#0000e6"/>
<rect x="877" y="263" width="1" height="16" fill="#ff0000"/>
<rect x="876" y="263" width="3" height="16" fill="#ff0000"/>
<rect x="879" y="262" width="1" height="21" fill="#0000e6"/>
<rect x="878" y="262" width="3" height="17" fill="#0000e6"/>
<rect x="881" y="245" width="1" height="21" fill="#0000e6"/>
<rect x="880" y="254" width="3" height="8" fill="#0000e6"/>
<rect x="883" y="250" width="1" height="17" fill="#ff0000"/>
<rect x="882" y="254" width="3" height="7" fill="#ff0000"/>
<rect x="885" y="252" width="1" height="21" fill="#ff0000"/>
<rect x="884" y="261" width="3" height="11" fill="#ff0000"/>
<rect x="887" y="225" width="1" height="48" fill="#0000e6"/>
<rect x="886" y="226" width="3" height="46" fill="#0000e6"/>
<rect x="889" y="211" width="1" height="15" fill="#0000e6"/>
<rect x="888" y="212" width="3" height="14" fill="#0000e6"/>
<rect x="891" y="207" width="1" height="13" fill="#0000e6"/>
<rect x="890" y="210" width="3" height="2" fill="#0000e6"/>
<rect x="893" y="209" width="1" height="22" fill="#ff0000"/>
<rect x="892" y="210" width="3" height="16" fill="#ff0000"/>
<rect x="894" y="209" width="1" height="25" fill="#0000e6"/>
<rect x="893" y="210" width="3" height="14" fill="#0000e6"/>
<rect x="896" y="212" width="1" height="24" fill="#ff0000"/>
<rect x="895" y="215" width="3" height="6" fill="#ff0000"/>
<rect x="898" y="205" width="1" height="16" fill="#0000e6"/>
<rect x="897" y="213" width="3" height="8" fill="#0000e6"/>
<rect x="900" y="212" width="1" height="19" fill="#ff0000"/>
<rect x="899" y="213" width="3" height="6" fill="#ff0000"/>
<rect x="902" y="195" width="1" height="33" fill="#0000e6"/>
<rect x="901" y="205" width="3" height="14" fill="#0000e6"/>
<rect x="904" y="196" width="1" height="10" fill="#0000e6"/>
<rect x="903" y="201" width="3" height="4" fill="#0000e6"/>
<rect x="906" y="200" width="1" height="8" fill="#ff0000"/>
<rect x="905" y="201" width="3" height="6" fill="#ff0000"/>
<rect x="908" y="207" width="1" height="18" fill="#ff0000"/>
<rect x="907" y="207" width="3" height="15" fill="#ff0000"/>
<rect x="910" y="221" width="1" height="18" fill="#ff0000"/>
<rect x="909" y="222" width="3" height="11" fill="#ff0000"/>
<rect x="912" y="228" width="1" height="14" fill="#0000e6"/>
<rect x="911" y="228" width="3" height="8" fill="#0000e6"/>
<rect x="914" y="221" width="1" height="13" fill="#ff0000"/>
<rect x="913" y="229" width="3" height="5" fill="#ff0000"/>
<rect x="916" y="230" width="1" height="16" fill="#ff0000"/>
<rect x="915" y="234" width="3" height="11" fill="#ff0000"/>
<rect x="918" y="244" width="1" height="16" fill="#ff0000"/>
<rect x="917" y="245" width="3" height="13" fill="#ff0000"/>
<rect x="920" y="257" width="1" height="18" fill="#ff0000"/>
<rect x="919" y="258" width="3" height="13" fill="#ff0000"/>
<rect x="922" y="263" width="1" height="12" fill="#0000e6"/>
<rect x="921" y="264" width="3" height="11" fill="#0000e6"/>
<rect x="923" y="264" width="1" height="14" fill="#ff0000"/>
<rect x="922" y="265" width="3" height="9" fill="#ff0000"/>
<rect x="925" y="266" width="1" height="8" fill="#0000e6"/>
<rect x="924" y="266" width="3" height="7" fill="#0000e6"/>
<rect x="927" y="267" width="1" height="13" fill="#ff0000"/>
<rect x="926" y="267" width="3" height="10" fill="#ff0000"/>
<rect x="929" y="256" width="1" height="22" fill="#0000e6"/>
<rect x="928" y="256" width="3" height="21" fill="#0000e6"/>
<rect x="931" y="246" width="1" height="12" fill="#ff0000"/>
<rect x="930" y="252" width="3" height="5" fill="#ff0000"/>
<rect x="933" y="240" width="1" height="23" fill="#0000e6"/>
<rect x="932" y="247" width="3" height="13" fill="#0000e6"/>
<rect x="935" y="242" width="1" height="7" fill="#0000e6"/>
<rect x="934" y="243" width="3" height="4" fill="#0000e6"/>
<rect x="937" y="235" width="1" height="26" fill="#ff0000"/>
<rect x="936" y="243" width="3" height="17" fill="#ff0000"/>
<rect x="939" y="259" width="1" height="23" fill="#ff0000"/>
<rect x="938" y="260" width="3" height="22" fill="#ff0000"/>
<rect x="941" y="275" width="1" height="10" fill="#0000e6"/>
<rect x="940" y="276" width="3" height="6" fill="#0000e6"/>
<rect x="943" y="259" width="1" height="21" fill="#0000e6"/>
<rect x="942" y="262" width="3" height="14" fill="#0000e6"/>
<rect x="945" y="251" width="1" height="17" fill="#0000e6"/>
<rect x="944" y="252" width="3" height="10" fill="#0000e6"/>
<rect x="947" y="244" width="1" height="8" fill="#0000e6"/>
<rect x="946" y="245" width="3" height="7" fill="#0000e6"/>
<rect x="949" y="236" width="1" height="13" fill="#0000e6"/>
<rect x="948" y="238" width="3" height="7" fill="#0000e6"/>
<rect x="950" y="231" width="1" height="7" fill="#0000e6"/>
<rect x="949" y="232" width="3" height="6" fill="#0000e6"/>
<rect x="952" y="230" width="1" height="5" fill="#0000e6"/>
<rect x="951" y="232" width="3" height="1" fill="#0000e6"/>
<rect x="954" y="224" width="1" height="16" fill="#ff0000"/>
<rect x="953" y="232" width="3" height="8" fill="#ff0000"/>
<rect x="956" y="236" width="1" height="20" fill="#ff0000"/>
<rect x="955" y="240" width="3" height="10" fill="#ff0000"/>
<rect x="958" y="239" width="1" height="21" fill="#0000e6"/>
<rect x="957" y="240" width="3" height="16" fill="#0000e6"/>
<rect x="960" y="237" width="1" height="4" fill="#0000e6"/>
<rect x="959" y="238" width="3" height="2" fill="#0000e6"/>
<rect x="962" y="233" width="1" height="15" fill="#ff0000"/>
<rect x="961" y="238" width="3" height="7" fill="#ff0000"/>
<rect x="964" y="225" width="1" height="24" fill="#0000e6"/>
<rect x="963" y="228" width="3" height="15" fill="#0000e6"/>
<rect x="966" y="225" width="1" height="3" fill="#0000e6"/>
<rect x="965" y="226" width="3" height="2" fill="#0000e6"/>
<rect x="968" y="226" width="1" height="9" fill="#ff0000"/>
<rect x="967" y="226" width="3" height="9" fill="#ff0000"/>
<rect x="970" y="234" width="1" height="16" fill="#ff0000"/>
<rect x="969" y="235" width="3" height="11" fill="#ff0000"/>
<rect x="972" y="244" width="1" height="6" fill="#0000e6"/>
<rect x="971" y="246" width="3" height="1" fill="#0000e6"/>
<rect x="974" y="232" width="1" height="14" fill="#0000e6"/>
<rect x="973" y="235" width="3" height="11" fill="#0000e6"/>
<rect x="976" y="227" width="1" height="8" fill="#0000e6"/>
<rect x="975" y="228" width="3" height="7" fill="#0000e6"/>
<rect x="978" y="225" width="1" height="14" fill="#ff0000"/>
<rect x="977" y="228" width="3" height="6" fill="#ff0000"/>
<rect x="979" y="229" width="1" height="7" fill="#0000e6"/>
<rect x="978" y="230" width="3" height="5" fill="#0000e6"/>
<rect x="981" y="214" width="1" height="23" fill="#0000e6"/>
<rect x="980" y="217" width="3" height="13" fill="#0000e6"/>
<rect x="983" y="214" width="1" height="4" fill="#0000e6"/>
<rect x="982" y="215" width="3" height="2" fill="#0000e6"/>
<rect x="985" y="215" width="1" height="10" fill="#ff0000"/>
<rect x="984" y="216" width="3" height="5" fill="#ff0000"/>
<rect x="987" y="220" width="1" height="7" fill="#ff0000"/>
<rect x="986" y="221" width="3" height="5" fill="#ff0000"/>
<rect x="989" y="220" width="1" height="17" fill="#ff0000"/>
<rect x="988" y="226" width="3" height="10" fill="#ff0000"/>
<rect x="991" y="229" width="1" height="21" fill="#0000e6"/>
<rect x="990" y="230" width="3" height="14" fill="#0000e6"/>
<rect x="993" y="225" width="1" height="12" fill="#ff0000"/>
<rect x="992" y="230" width="3" height="6" fill="#ff0000"/>
<rect x="995" y="236" width="1" height="16" fill="#ff0000"/>
<rect x="994" y="236" width="3" height="14" fill="#ff0000"/>
<rect x="997" y="249" width="1" height="11" fill="#ff0000"/>
<rect x="996" y="250" width="3" height="10" fill="#ff0000"/>
<rect x="999" y="259" width="1" height="4" fill="#ff0000"/>
<rect x="998" y="260" width="3" height="2" fill="#ff0000"/>
<rect x="1001" y="255" width="1" height="14" fill="#ff0000"/>
<rect x="1000" y="260" width="3" height="7" fill="#ff0000"/>
<rect x="1003" y="264" width="1" height="12" fill="#ff0000"/>
<rect x="1002" y="267" width="3" height="5" fill="#ff0000"/>
<rect x="1005" y="257" width="1" height="14" fill="#ff0000"/>
<rect x="1004" y="262" width="3" height="7" fill="#ff0000"/>
<rect x="1007" y="265" width="1" height="18" fill="#ff0000"/>
<rect x="1006" y="269" width="3" height="12" fill="#ff0000"/>
<rect x="1008" y="265" width="1" height="19" fill="#0000e6"/>
<rect x="1007" y="272" width="3" height="10" fill="#0000e6"/>
<rect x="1010" y="270" width="1" height="9" fill="#ff0000"/>
<rect x="1009" y="272" width="3" height="6" fill="#ff0000"/>
<rect x="1012" y="267" width="1" height="23" fill="#ff0000"/>
<rect x="1011" y="274" width="3" height="16" fill="#ff0000"/>
<rect x="1014" y="288" width="1" height="21" fill="#ff0000"/>
<rect x="1013" y="290" width="3" height="18" fill="#ff0000"/>
<rect x="1016" y="308" width="1" height="21" fill="#ff0000"/>
<rect x="1015" y="308" width="3" height="14" fill="#ff0000"/>
</g>
<polyline points="9.3,489.5 13.3,485.3 20.0,482.6 30.7,480.4 40.0,477.2 46.7,473.3 53.3,464.0 60.0,461.5 69.3,459.5 80.0,450.4 90.0,438.0 100.0,428.0 110.0,421.6 120.0,420.0 130.0,418.0 140.0,411.0 150.0,409.5 160.0,402.0 170.0,392.0 180.0,385.5 190.0,378.0 196.4,376.0 204.0,380.5 214.0,389.0 222.0,393.0 230.0,394.6 238.0,401.0 246.0,403.4 254.0,404.0 262.0,402.0 270.0,400.6 280.0,396.0 290.0,385.0 300.0,380.0 310.0,367.0 316.0,351.0 321.0,340.0 328.0,330.0 334.0,320.0 340.0,316.0 348.0,304.0 356.0,290.0 362.0,278.0 367.0,264.0 369.0,254.0 374.0,238.0 377.0,227.0 380.0,216.0 384.0,202.0 389.0,193.0 395.0,190.6 400.0,193.0 406.0,198.0 410.0,210.0 413.0,222.0 415.0,232.0 418.0,242.0 424.0,268.0 428.0,292.0 432.0,313.0 436.0,330.0 441.0,350.0 448.0,372.0 455.0,388.0 463.0,399.0 470.0,403.6 475.0,401.0 481.0,396.0 489.0,394.0 499.0,389.0 509.0,385.0 515.0,378.0 525.0,370.0 535.0,363.0 543.0,361.0 555.0,352.0 567.0,342.0 575.0,346.4 585.0,345.6 595.0,344.4 603.0,345.6 610.0,344.4 617.0,339.0 627.0,332.0 635.0,324.0 641.0,319.0 648.0,315.0 655.0,302.0 661.0,288.0 667.0,276.0 677.0,270.0 685.0,269.0 692.0,267.0 697.0,274.0 705.0,280.0 715.0,286.4 721.0,283.0 731.0,277.0 741.0,270.0 747.0,267.6 754.0,258.0 762.0,251.4 768.0,250.0 774.0,254.0 780.0,263.0 788.0,271.0 796.0,272.4 806.0,269.6 814.0,272.0 824.0,278.0 833.0,282.4 844.0,278.0 854.0,277.0 864.0,276.6 874.0,275.0 884.0,271.0 892.0,263.0 900.0,255.0 908.0,248.4 915.0,246.0 922.0,249.0 930.0,252.0 936.0,252.0 944.0,255.0 952.0,251.6 960.0,250.0 968.0,248.4 976.0,246.0 982.0,244.0 986.0,241.4 992.0,241.0 1000.0,243.0 1006.0,247.6 1012.0,252.0 1015.0,255.0 1017.0,258.4" fill="none" stroke="#a52a2a" stroke-width="1" stroke-linejoin="round" shape-rendering="crispEdges"/>
<g shape-rendering="crispEdges" fill="#000">
<rect x="1" y="30" width="1025" height="1"/>
<rect x="1" y="544" width="1025" height="1"/>
<rect x="1" y="30" width="1" height="515"/>
<rect x="1025" y="30" width="1" height="515"/>
<rect x="1026" y="535" width="2" height="1"/>
<rect x="0" y="535" width="1" height="1"/>
<rect x="1026" y="527" width="1" height="1"/>
<rect x="0" y="527" width="1" height="1"/>
<rect x="1026" y="519" width="1" height="1"/>
<rect x="0" y="519" width="1" height="1"/>
<rect x="1026" y="510" width="1" height="1"/>
<rect x="0" y="510" width="1" height="1"/>
<rect x="1026" y="502" width="1" height="1"/>
<rect x="0" y="502" width="1" height="1"/>
<rect x="1026" y="494" width="2" height="1"/>
<rect x="0" y="494" width="1" height="1"/>
<rect x="1026" y="486" width="1" height="1"/>
<rect x="0" y="486" width="1" height="1"/>
<rect x="1026" y="477" width="1" height="1"/>
<rect x="0" y="477" width="1" height="1"/>
<rect x="1026" y="469" width="1" height="1"/>
<rect x="0" y="469" width="1" height="1"/>
<rect x="1026" y="460" width="1" height="1"/>
<rect x="0" y="460" width="1" height="1"/>
<rect x="1026" y="452" width="2" height="1"/>
<rect x="0" y="452" width="1" height="1"/>
<rect x="1026" y="444" width="1" height="1"/>
<rect x="0" y="444" width="1" height="1"/>
<rect x="1026" y="436" width="1" height="1"/>
<rect x="0" y="436" width="1" height="1"/>
<rect x="1026" y="427" width="1" height="1"/>
<rect x="0" y="427" width="1" height="1"/>
<rect x="1026" y="419" width="1" height="1"/>
<rect x="0" y="419" width="1" height="1"/>
<rect x="1026" y="411" width="2" height="1"/>
<rect x="0" y="411" width="1" height="1"/>
<rect x="1026" y="403" width="1" height="1"/>
<rect x="0" y="403" width="1" height="1"/>
<rect x="1026" y="395" width="1" height="1"/>
<rect x="0" y="395" width="1" height="1"/>
<rect x="1026" y="386" width="1" height="1"/>
<rect x="0" y="386" width="1" height="1"/>
<rect x="1026" y="378" width="1" height="1"/>
<rect x="0" y="378" width="1" height="1"/>
<rect x="1026" y="370" width="2" height="1"/>
<rect x="0" y="370" width="1" height="1"/>
<rect x="1026" y="362" width="1" height="1"/>
<rect x="0" y="362" width="1" height="1"/>
<rect x="1026" y="353" width="1" height="1"/>
<rect x="0" y="353" width="1" height="1"/>
<rect x="1026" y="345" width="1" height="1"/>
<rect x="0" y="345" width="1" height="1"/>
<rect x="1026" y="336" width="1" height="1"/>
<rect x="0" y="336" width="1" height="1"/>
<rect x="1026" y="328" width="2" height="1"/>
<rect x="0" y="328" width="1" height="1"/>
<rect x="1026" y="320" width="1" height="1"/>
<rect x="0" y="320" width="1" height="1"/>
<rect x="1026" y="312" width="1" height="1"/>
<rect x="0" y="312" width="1" height="1"/>
<rect x="1026" y="303" width="1" height="1"/>
<rect x="0" y="303" width="1" height="1"/>
<rect x="1026" y="295" width="1" height="1"/>
<rect x="0" y="295" width="1" height="1"/>
<rect x="1026" y="287" width="2" height="1"/>
<rect x="0" y="287" width="1" height="1"/>
<rect x="1026" y="279" width="1" height="1"/>
<rect x="0" y="279" width="1" height="1"/>
<rect x="1026" y="270" width="1" height="1"/>
<rect x="0" y="270" width="1" height="1"/>
<rect x="1026" y="262" width="1" height="1"/>
<rect x="0" y="262" width="1" height="1"/>
<rect x="1026" y="253" width="1" height="1"/>
<rect x="0" y="253" width="1" height="1"/>
<rect x="1026" y="245" width="2" height="1"/>
<rect x="0" y="245" width="1" height="1"/>
<rect x="1026" y="237" width="1" height="1"/>
<rect x="0" y="237" width="1" height="1"/>
<rect x="1026" y="229" width="1" height="1"/>
<rect x="0" y="229" width="1" height="1"/>
<rect x="1026" y="220" width="1" height="1"/>
<rect x="0" y="220" width="1" height="1"/>
<rect x="1026" y="212" width="1" height="1"/>
<rect x="0" y="212" width="1" height="1"/>
<rect x="1026" y="204" width="2" height="1"/>
<rect x="0" y="204" width="1" height="1"/>
<rect x="1026" y="196" width="1" height="1"/>
<rect x="0" y="196" width="1" height="1"/>
<rect x="1026" y="188" width="1" height="1"/>
<rect x="0" y="188" width="1" height="1"/>
<rect x="1026" y="179" width="1" height="1"/>
<rect x="0" y="179" width="1" height="1"/>
<rect x="1026" y="171" width="1" height="1"/>
<rect x="0" y="171" width="1" height="1"/>
<rect x="1026" y="163" width="2" height="1"/>
<rect x="0" y="163" width="1" height="1"/>
<rect x="1026" y="155" width="1" height="1"/>
<rect x="0" y="155" width="1" height="1"/>
<rect x="1026" y="146" width="1" height="1"/>
<rect x="0" y="146" width="1" height="1"/>
<rect x="1026" y="138" width="1" height="1"/>
<rect x="0" y="138" width="1" height="1"/>
<rect x="1026" y="129" width="1" height="1"/>
<rect x="0" y="129" width="1" height="1"/>
<rect x="1026" y="121" width="2" height="1"/>
<rect x="0" y="121" width="1" height="1"/>
<rect x="1026" y="113" width="1" height="1"/>
<rect x="0" y="113" width="1" height="1"/>
<rect x="1026" y="105" width="1" height="1"/>
<rect x="0" y="105" width="1" height="1"/>
<rect x="1026" y="96" width="1" height="1"/>
<rect x="0" y="96" width="1" height="1"/>
<rect x="1026" y="88" width="1" height="1"/>
<rect x="0" y="88" width="1" height="1"/>
<rect x="1026" y="80" width="2" height="1"/>
<rect x="0" y="80" width="1" height="1"/>
<rect x="1026" y="72" width="1" height="1"/>
<rect x="0" y="72" width="1" height="1"/>
<rect x="1026" y="64" width="1" height="1"/>
<rect x="0" y="64" width="1" height="1"/>
<rect x="1026" y="55" width="1" height="1"/>
<rect x="0" y="55" width="1" height="1"/>
<rect x="1026" y="47" width="1" height="1"/>
<rect x="0" y="47" width="1" height="1"/>
<rect x="1026" y="39" width="2" height="1"/>
<rect x="0" y="39" width="1" height="1"/>
<rect x="9" y="545" width="1" height="4"/>
<rect x="30" y="545" width="1" height="4"/>
<rect x="131" y="545" width="1" height="4"/>
<rect x="231" y="545" width="1" height="4"/>
<rect x="334" y="545" width="1" height="4"/>
<rect x="434" y="545" width="1" height="4"/>
<rect x="535" y="545" width="1" height="4"/>
<rect x="635" y="545" width="1" height="4"/>
<rect x="736" y="545" width="1" height="4"/>
<rect x="838" y="545" width="1" height="4"/>
<rect x="939" y="545" width="1" height="4"/>
</g>
<text y="21" font-size="16" stroke-width="0.35"><tspan x="10.7" letter-spacing="-0.35" fill="#000" stroke="#000">Oil</tspan> <tspan x="36.5" letter-spacing="1.17" fill="#000" stroke="#000">(1st</tspan> <tspan x="73.7" letter-spacing="1.4" fill="#000" stroke="#000">West</tspan> <tspan x="119.4" letter-spacing="1.52" fill="#000" stroke="#000">Texas)</tspan> <tspan x="181.0" letter-spacing="0.9" fill="#000" stroke="#000">(CL1</tspan> <tspan x="225.6" letter-spacing="1.07" fill="#000" stroke="#000">COMB</tspan> <tspan x="282.5" letter-spacing="1.43" fill="#000" stroke="#000">COMDTY)</tspan> <tspan x="371.8" letter-spacing="0.6" fill="#000" stroke="#000">81.52</tspan> <tspan x="422.0" letter-spacing="1.07" fill="#ff0000" stroke="#ff0000">-4.3</tspan></text>
<text x="985.05" y="19.8" font-size="15.3" fill="#000" letter-spacing="0.02" stroke="#000" stroke-width="0.1" style="white-space:pre">2014-10-15</text>
<text x="10.2" y="44.6" font-size="14" fill="#0000ff" letter-spacing="-0.04" stroke="#0000ff" stroke-width="0.15" style="white-space:pre">Weekly</text>
<text x="9.8" y="64.8" font-size="14" fill="#a52020" letter-spacing="-0.07" stroke="#a52020" stroke-width="0.15" style="white-space:pre">EMA 200</text>
<text x="1030.3" y="539.8" font-size="12" fill="#000" letter-spacing="1.0" stroke="#000" stroke-width="0.1" style="white-space:pre">30</text>
<text x="1030.3" y="498.8" font-size="12" fill="#000" letter-spacing="1.0" stroke="#000" stroke-width="0.1" style="white-space:pre">40</text>
<text x="1030.3" y="456.8" font-size="12" fill="#000" letter-spacing="1.0" stroke="#000" stroke-width="0.1" style="white-space:pre">50</text>
<text x="1030.3" y="415.8" font-size="12" fill="#000" letter-spacing="1.0" stroke="#000" stroke-width="0.1" style="white-space:pre">60</text>
<text x="1030.3" y="374.8" font-size="12" fill="#000" letter-spacing="1.0" stroke="#000" stroke-width="0.1" style="white-space:pre">70</text>
<text x="1030.3" y="332.8" font-size="12" fill="#000" letter-spacing="1.0" stroke="#000" stroke-width="0.1" style="white-space:pre">80</text>
<text x="1030.3" y="291.8" font-size="12" fill="#000" letter-spacing="1.0" stroke="#000" stroke-width="0.1" style="white-space:pre">90</text>
<text x="1031.6" y="249.8" font-size="12" fill="#000" letter-spacing="0.25" stroke="#000" stroke-width="0.1" style="white-space:pre">100</text>
<text x="1031.6" y="208.8" font-size="12" fill="#000" letter-spacing="0.25" stroke="#000" stroke-width="0.1" style="white-space:pre">110</text>
<text x="1031.6" y="167.8" font-size="12" fill="#000" letter-spacing="0.25" stroke="#000" stroke-width="0.1" style="white-space:pre">120</text>
<text x="1031.6" y="125.8" font-size="12" fill="#000" letter-spacing="0.25" stroke="#000" stroke-width="0.1" style="white-space:pre">130</text>
<text x="1031.6" y="84.8" font-size="12" fill="#000" letter-spacing="0.25" stroke="#000" stroke-width="0.1" style="white-space:pre">140</text>
<text x="1031.6" y="43.8" font-size="12" fill="#000" letter-spacing="0.25" stroke="#000" stroke-width="0.1" style="white-space:pre">150</text>
<text x="17.1" y="562" font-size="12.3" fill="#000" letter-spacing="0.77" stroke="#000" stroke-width="0.1" style="white-space:pre">2005</text>
<text x="118.1" y="562" font-size="12.3" fill="#000" letter-spacing="0.77" stroke="#000" stroke-width="0.1" style="white-space:pre">2006</text>
<text x="218.1" y="562" font-size="12.3" fill="#000" letter-spacing="0.77" stroke="#000" stroke-width="0.1" style="white-space:pre">2007</text>
<text x="321.1" y="562" font-size="12.3" fill="#000" letter-spacing="0.77" stroke="#000" stroke-width="0.1" style="white-space:pre">2008</text>
<text x="421.1" y="562" font-size="12.3" fill="#000" letter-spacing="0.77" stroke="#000" stroke-width="0.1" style="white-space:pre">2009</text>
<text x="522.1" y="562" font-size="12.3" fill="#000" letter-spacing="0.77" stroke="#000" stroke-width="0.1" style="white-space:pre">2010</text>
<text x="622.1" y="562" font-size="12.3" fill="#000" letter-spacing="0.77" stroke="#000" stroke-width="0.1" style="white-space:pre">2011</text>
<text x="723.1" y="562" font-size="12.3" fill="#000" letter-spacing="0.77" stroke="#000" stroke-width="0.1" style="white-space:pre">2012</text>
<text x="825.1" y="562" font-size="12.3" fill="#000" letter-spacing="0.77" stroke="#000" stroke-width="0.1" style="white-space:pre">2013</text>
<text x="926.1" y="562" font-size="12.3" fill="#000" letter-spacing="0.77" stroke="#000" stroke-width="0.1" style="white-space:pre">2014</text>
<text x="0.3" y="590" font-size="15" fill="#0000ff" letter-spacing="0.39" stroke="#0000ff" stroke-width="0.1" style="white-space:pre">www.fullertreacymoney.com</text>
<text x="625.9" y="589.8" font-size="11" fill="#9a9a9a" letter-spacing="0.68" stroke="#9a9a9a" stroke-width="0.1" style="white-space:pre">This website is © 2008-2014 Fuller Treacy Money plc. All rights reserved.</text>
</svg>
</body></html>
